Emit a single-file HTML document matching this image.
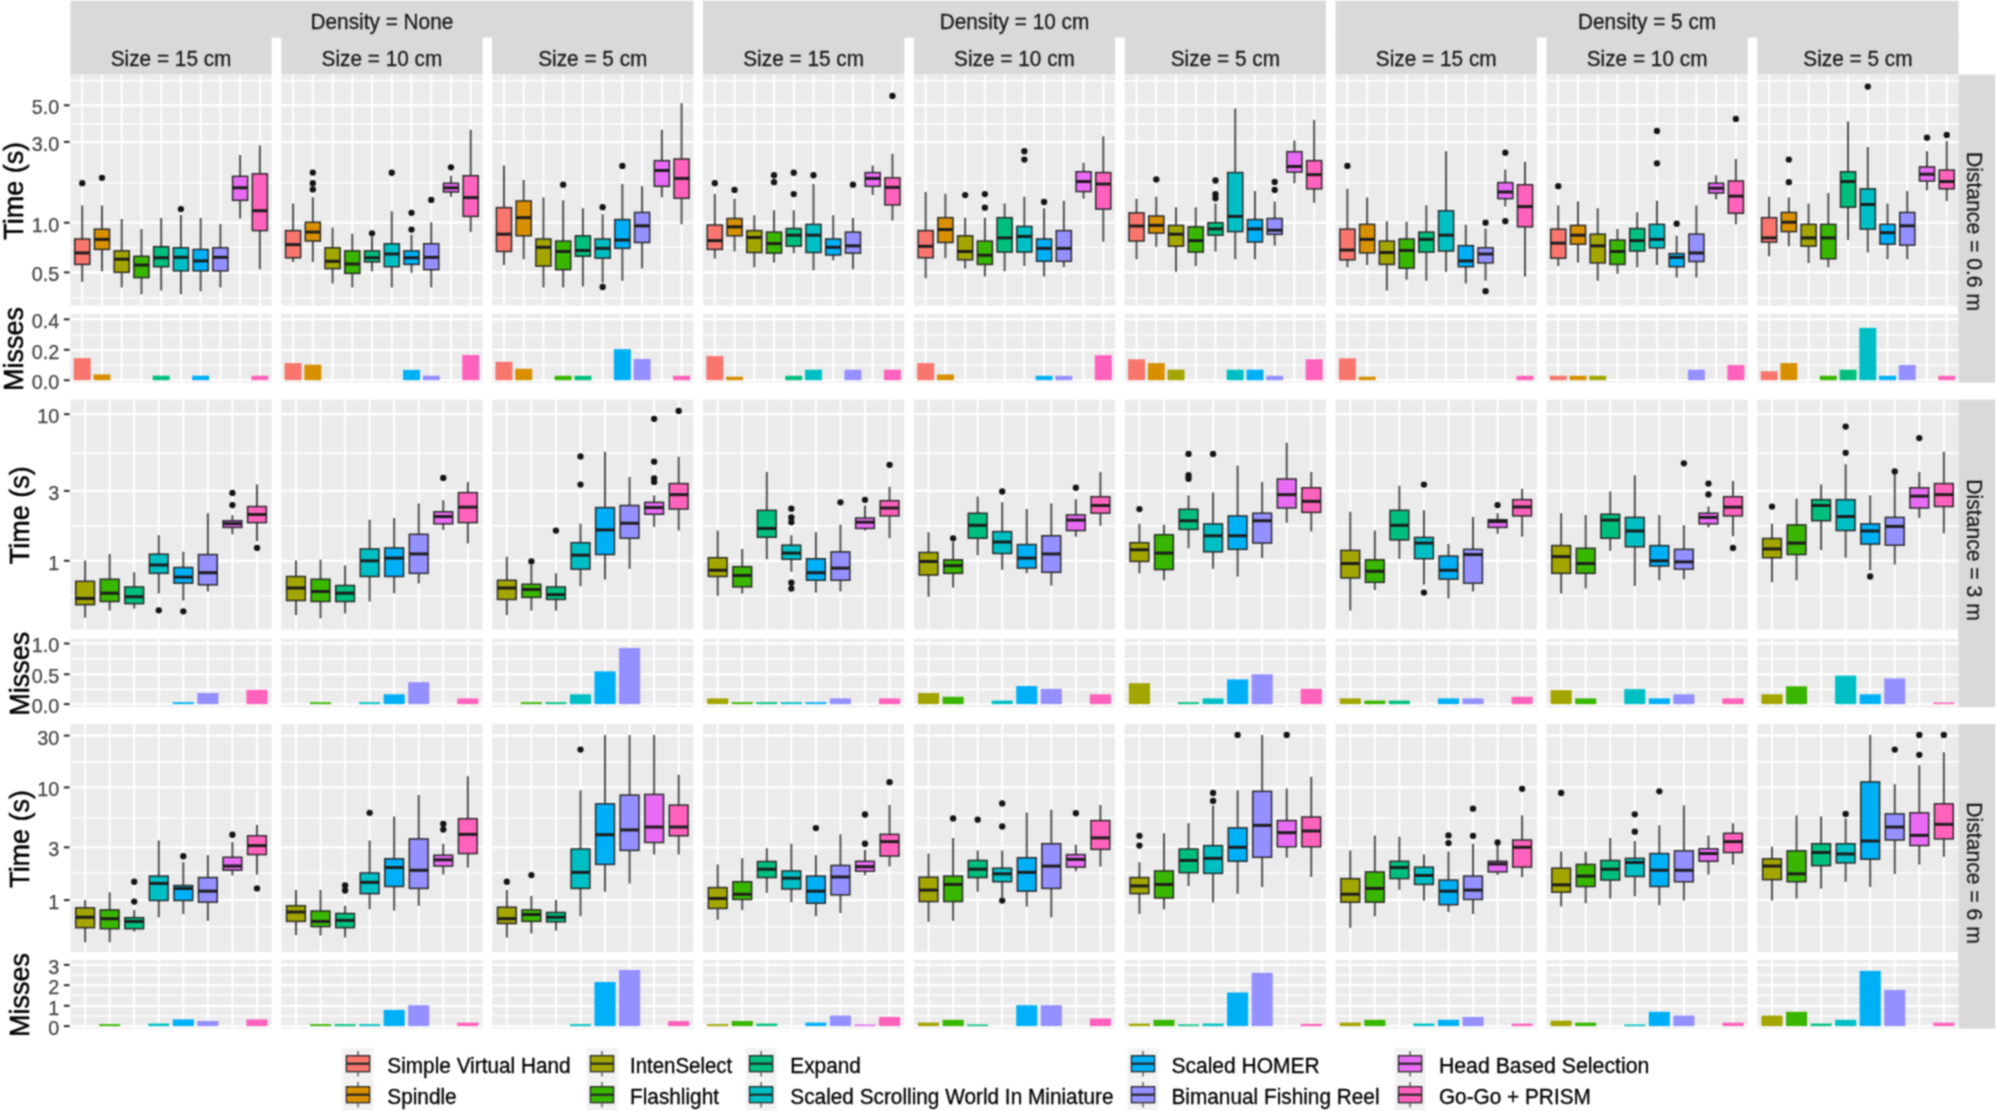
<!DOCTYPE html>
<html lang="en"><head><meta charset="utf-8"><title>Selection techniques: time and misses</title>
<style>html,body{margin:0;padding:0;background:#fff}body{width:1996px;height:1111px;overflow:hidden}svg{display:block}</style>
</head><body>
<svg width="1996" height="1111" viewBox="0 0 1996 1111" font-family="'Liberation Sans', Arial, sans-serif">
<defs><filter id="soft" x="0" y="0" width="1996" height="1111" filterUnits="userSpaceOnUse" color-interpolation-filters="sRGB"><feConvolveMatrix order="3" kernelMatrix="1 2 1 2 4 2 1 2 1" divisor="16" edgeMode="duplicate" preserveAlpha="true"/></filter></defs>
<g filter="url(#soft)">
<rect x="0" y="0" width="1996" height="1111" fill="#ffffff"/>
<rect x="70.4" y="0.8" width="623.02" height="36.8" fill="#d9d9d9"/>
<text transform="translate(381.91,29) scale(0.972,1)" font-size="21.4" text-anchor="middle" fill="#1a1a1a" stroke="#1a1a1a" stroke-width="0.3">Density = None</text>
<rect x="702.98" y="0.8" width="623.02" height="36.8" fill="#d9d9d9"/>
<text transform="translate(1014.49,29) scale(0.972,1)" font-size="21.4" text-anchor="middle" fill="#1a1a1a" stroke="#1a1a1a" stroke-width="0.3">Density = 10 cm</text>
<rect x="1335.56" y="0.8" width="623.02" height="36.8" fill="#d9d9d9"/>
<text transform="translate(1647.07,29) scale(0.972,1)" font-size="21.4" text-anchor="middle" fill="#1a1a1a" stroke="#1a1a1a" stroke-width="0.3">Density = 5 cm</text>
<rect x="70.4" y="37.1" width="201.3" height="37.4" fill="#d9d9d9"/>
<text transform="translate(171.05,66.3) scale(0.972,1)" font-size="21.4" text-anchor="middle" fill="#1a1a1a" stroke="#1a1a1a" stroke-width="0.3">Size = 15 cm</text>
<rect x="281.26" y="37.1" width="201.3" height="37.4" fill="#d9d9d9"/>
<text transform="translate(381.91,66.3) scale(0.972,1)" font-size="21.4" text-anchor="middle" fill="#1a1a1a" stroke="#1a1a1a" stroke-width="0.3">Size = 10 cm</text>
<rect x="492.12" y="37.1" width="201.3" height="37.4" fill="#d9d9d9"/>
<text transform="translate(592.77,66.3) scale(0.972,1)" font-size="21.4" text-anchor="middle" fill="#1a1a1a" stroke="#1a1a1a" stroke-width="0.3">Size = 5 cm</text>
<rect x="702.98" y="37.1" width="201.3" height="37.4" fill="#d9d9d9"/>
<text transform="translate(803.63,66.3) scale(0.972,1)" font-size="21.4" text-anchor="middle" fill="#1a1a1a" stroke="#1a1a1a" stroke-width="0.3">Size = 15 cm</text>
<rect x="913.84" y="37.1" width="201.3" height="37.4" fill="#d9d9d9"/>
<text transform="translate(1014.49,66.3) scale(0.972,1)" font-size="21.4" text-anchor="middle" fill="#1a1a1a" stroke="#1a1a1a" stroke-width="0.3">Size = 10 cm</text>
<rect x="1124.7" y="37.1" width="201.3" height="37.4" fill="#d9d9d9"/>
<text transform="translate(1225.35,66.3) scale(0.972,1)" font-size="21.4" text-anchor="middle" fill="#1a1a1a" stroke="#1a1a1a" stroke-width="0.3">Size = 5 cm</text>
<rect x="1335.56" y="37.1" width="201.3" height="37.4" fill="#d9d9d9"/>
<text transform="translate(1436.21,66.3) scale(0.972,1)" font-size="21.4" text-anchor="middle" fill="#1a1a1a" stroke="#1a1a1a" stroke-width="0.3">Size = 15 cm</text>
<rect x="1546.42" y="37.1" width="201.3" height="37.4" fill="#d9d9d9"/>
<text transform="translate(1647.07,66.3) scale(0.972,1)" font-size="21.4" text-anchor="middle" fill="#1a1a1a" stroke="#1a1a1a" stroke-width="0.3">Size = 10 cm</text>
<rect x="1757.28" y="37.1" width="201.3" height="37.4" fill="#d9d9d9"/>
<text transform="translate(1857.93,66.3) scale(0.972,1)" font-size="21.4" text-anchor="middle" fill="#1a1a1a" stroke="#1a1a1a" stroke-width="0.3">Size = 5 cm</text>
<rect x="1958.2" y="74.5" width="37" height="308.2" fill="#d9d9d9"/>
<text transform="translate(1967,231.5) rotate(90) scale(0.988,1)" font-size="21.4" text-anchor="middle" fill="#1a1a1a" stroke="#1a1a1a" stroke-width="0.3">Distance = 0.6 m</text>
<rect x="1958.2" y="399.6" width="37" height="307.7" fill="#d9d9d9"/>
<text transform="translate(1967,550) rotate(90) scale(0.988,1)" font-size="21.4" text-anchor="middle" fill="#1a1a1a" stroke="#1a1a1a" stroke-width="0.3">Distance = 3 m</text>
<rect x="1958.2" y="724.1" width="37" height="304.5" fill="#d9d9d9"/>
<text transform="translate(1967,873) rotate(90) scale(0.988,1)" font-size="21.4" text-anchor="middle" fill="#1a1a1a" stroke="#1a1a1a" stroke-width="0.3">Distance = 6 m</text>
<rect x="70.4" y="74.5" width="201.3" height="231.1" fill="#ebebeb"/>
<path d="M70.4 80.7H271.7M70.4 123.7H271.7M70.4 182.6H271.7M70.4 247.3H271.7M70.4 297.8H271.7" stroke="#fff" stroke-width="1.35" fill="none"/>
<path d="M70.4 105.3H271.7M70.4 141.9H271.7M70.4 222.7H271.7M70.4 272.4H271.7" stroke="#fff" stroke-width="2.3" fill="none"/>
<path d="M82.24 74.5V305.6M101.98 74.5V305.6M121.71 74.5V305.6M141.45 74.5V305.6M161.18 74.5V305.6M180.92 74.5V305.6M200.65 74.5V305.6M220.39 74.5V305.6M240.12 74.5V305.6M259.86 74.5V305.6" stroke="#fff" stroke-width="1.9" fill="none"/>
<rect x="70.4" y="313.8" width="201.3" height="68.9" fill="#ebebeb"/>
<path d="M70.4 334.8H271.7M70.4 365.1H271.7" stroke="#fff" stroke-width="1.35" fill="none"/>
<path d="M70.4 319.3H271.7M70.4 349.8H271.7M70.4 380.2H271.7" stroke="#fff" stroke-width="2.3" fill="none"/>
<path d="M82.24 313.8V382.7M101.98 313.8V382.7M121.71 313.8V382.7M141.45 313.8V382.7M161.18 313.8V382.7M180.92 313.8V382.7M200.65 313.8V382.7M220.39 313.8V382.7M240.12 313.8V382.7M259.86 313.8V382.7" stroke="#fff" stroke-width="1.9" fill="none"/>
<path d="M82.24 205.55V238.96M82.24 264.44V281.77" stroke="#4a4a4a" stroke-width="1.9" fill="none"/>
<rect x="74.69" y="238.96" width="15.1" height="25.48" fill="#F8766D" stroke="#262626" stroke-width="1.45"/>
<path d="M74.69 252.95H89.79" stroke="#1c1c1c" stroke-width="3.0" fill="none"/>
<circle cx="82.24" cy="183.21" r="3.15" fill="#141414"/>
<path d="M101.98 205.55V229.15M101.98 249.4V271.33" stroke="#4a4a4a" stroke-width="1.9" fill="none"/>
<rect x="94.43" y="229.15" width="15.1" height="20.25" fill="#D89000" stroke="#262626" stroke-width="1.45"/>
<path d="M94.43 239.38H109.53" stroke="#1c1c1c" stroke-width="3.0" fill="none"/>
<circle cx="101.98" cy="177.78" r="3.15" fill="#141414"/>
<path d="M121.71 219.12V250.86M121.71 272.37V287.41" stroke="#4a4a4a" stroke-width="1.9" fill="none"/>
<rect x="114.16" y="250.86" width="15.1" height="21.51" fill="#A3A500" stroke="#262626" stroke-width="1.45"/>
<path d="M114.16 259.22H129.26" stroke="#1c1c1c" stroke-width="3.0" fill="none"/>
<path d="M141.45 228.94V256.29M141.45 277.59V294.3" stroke="#4a4a4a" stroke-width="1.9" fill="none"/>
<rect x="133.9" y="256.29" width="15.1" height="21.3" fill="#39B600" stroke="#262626" stroke-width="1.45"/>
<path d="M133.9 265.06H149" stroke="#1c1c1c" stroke-width="3.0" fill="none"/>
<path d="M161.18 218.08V246.69M161.18 266.73V290.54" stroke="#4a4a4a" stroke-width="1.9" fill="none"/>
<rect x="153.63" y="246.69" width="15.1" height="20.05" fill="#00BF7D" stroke="#262626" stroke-width="1.45"/>
<path d="M153.63 257.75H168.73" stroke="#1c1c1c" stroke-width="3.0" fill="none"/>
<path d="M180.92 214.95V247.73M180.92 270.91V294.3" stroke="#4a4a4a" stroke-width="1.9" fill="none"/>
<rect x="173.37" y="247.73" width="15.1" height="23.18" fill="#00BFC4" stroke="#262626" stroke-width="1.45"/>
<path d="M173.37 257.34H188.47" stroke="#1c1c1c" stroke-width="3.0" fill="none"/>
<circle cx="180.92" cy="209.1" r="3.15" fill="#141414"/>
<path d="M200.65 218.08V249.4M200.65 270.91V291.16" stroke="#4a4a4a" stroke-width="1.9" fill="none"/>
<rect x="193.1" y="249.4" width="15.1" height="21.51" fill="#00B0F6" stroke="#262626" stroke-width="1.45"/>
<path d="M193.1 260.89H208.2" stroke="#1c1c1c" stroke-width="3.0" fill="none"/>
<path d="M220.39 223.93V247.73M220.39 270.91V287.41" stroke="#4a4a4a" stroke-width="1.9" fill="none"/>
<rect x="212.84" y="247.73" width="15.1" height="23.18" fill="#9590FF" stroke="#262626" stroke-width="1.45"/>
<path d="M212.84 257.34H227.94" stroke="#1c1c1c" stroke-width="3.0" fill="none"/>
<path d="M240.12 155.02V176.32M240.12 200.33V218.5" stroke="#4a4a4a" stroke-width="1.9" fill="none"/>
<rect x="232.57" y="176.32" width="15.1" height="24.01" fill="#E76BF3" stroke="#262626" stroke-width="1.45"/>
<path d="M232.57 187.8H247.67" stroke="#1c1c1c" stroke-width="3.0" fill="none"/>
<path d="M259.86 145.41V173.81M259.86 230.61V269.24" stroke="#4a4a4a" stroke-width="1.9" fill="none"/>
<rect x="252.31" y="173.81" width="15.1" height="56.8" fill="#FF62BC" stroke="#262626" stroke-width="1.45"/>
<path d="M252.31 210.77H267.41" stroke="#1c1c1c" stroke-width="3.0" fill="none"/>
<rect x="73.76" y="358.1" width="16.97" height="22.1" fill="#F8766D"/>
<rect x="93.49" y="374.4" width="16.97" height="5.8" fill="#D89000"/>
<rect x="152.7" y="375.7" width="16.97" height="4.5" fill="#00BF7D"/>
<rect x="192.17" y="375.7" width="16.97" height="4.5" fill="#00B0F6"/>
<rect x="251.37" y="375.7" width="16.97" height="4.5" fill="#FF62BC"/>
<rect x="281.26" y="74.5" width="201.3" height="231.1" fill="#ebebeb"/>
<path d="M281.26 80.7H482.56M281.26 123.7H482.56M281.26 182.6H482.56M281.26 247.3H482.56M281.26 297.8H482.56" stroke="#fff" stroke-width="1.35" fill="none"/>
<path d="M281.26 105.3H482.56M281.26 141.9H482.56M281.26 222.7H482.56M281.26 272.4H482.56" stroke="#fff" stroke-width="2.3" fill="none"/>
<path d="M293.1 74.5V305.6M312.84 74.5V305.6M332.57 74.5V305.6M352.31 74.5V305.6M372.04 74.5V305.6M391.78 74.5V305.6M411.51 74.5V305.6M431.25 74.5V305.6M450.98 74.5V305.6M470.72 74.5V305.6" stroke="#fff" stroke-width="1.9" fill="none"/>
<rect x="281.26" y="313.8" width="201.3" height="68.9" fill="#ebebeb"/>
<path d="M281.26 334.8H482.56M281.26 365.1H482.56" stroke="#fff" stroke-width="1.35" fill="none"/>
<path d="M281.26 319.3H482.56M281.26 349.8H482.56M281.26 380.2H482.56" stroke="#fff" stroke-width="2.3" fill="none"/>
<path d="M293.1 313.8V382.7M312.84 313.8V382.7M332.57 313.8V382.7M352.31 313.8V382.7M372.04 313.8V382.7M391.78 313.8V382.7M411.51 313.8V382.7M431.25 313.8V382.7M450.98 313.8V382.7M470.72 313.8V382.7" stroke="#fff" stroke-width="1.9" fill="none"/>
<path d="M293.1 203.46V230.61M293.1 257.75V261.93" stroke="#4a4a4a" stroke-width="1.9" fill="none"/>
<rect x="285.55" y="230.61" width="15.1" height="27.15" fill="#F8766D" stroke="#262626" stroke-width="1.45"/>
<path d="M285.55 244.6H300.65" stroke="#1c1c1c" stroke-width="3.0" fill="none"/>
<path d="M312.84 197.2V222.26M312.84 241.05V261.93" stroke="#4a4a4a" stroke-width="1.9" fill="none"/>
<rect x="305.29" y="222.26" width="15.1" height="18.79" fill="#D89000" stroke="#262626" stroke-width="1.45"/>
<path d="M305.29 232.07H320.39" stroke="#1c1c1c" stroke-width="3.0" fill="none"/>
<circle cx="312.84" cy="172.56" r="3.15" fill="#141414"/>
<circle cx="312.84" cy="183.21" r="3.15" fill="#141414"/>
<circle cx="312.84" cy="189.47" r="3.15" fill="#141414"/>
<path d="M332.57 227.48V247.73M332.57 268.61V283.44" stroke="#4a4a4a" stroke-width="1.9" fill="none"/>
<rect x="325.02" y="247.73" width="15.1" height="20.88" fill="#A3A500" stroke="#262626" stroke-width="1.45"/>
<path d="M325.02 261.3H340.12" stroke="#1c1c1c" stroke-width="3.0" fill="none"/>
<path d="M352.31 233.74V250.86M352.31 273.42V287.41" stroke="#4a4a4a" stroke-width="1.9" fill="none"/>
<rect x="344.76" y="250.86" width="15.1" height="22.55" fill="#39B600" stroke="#262626" stroke-width="1.45"/>
<path d="M344.76 264.02H359.86" stroke="#1c1c1c" stroke-width="3.0" fill="none"/>
<path d="M372.04 236.87V250.86M372.04 261.93V271.33" stroke="#4a4a4a" stroke-width="1.9" fill="none"/>
<rect x="364.49" y="250.86" width="15.1" height="11.07" fill="#00BF7D" stroke="#262626" stroke-width="1.45"/>
<path d="M364.49 257.75H379.59" stroke="#1c1c1c" stroke-width="3.0" fill="none"/>
<circle cx="372.04" cy="233.32" r="3.15" fill="#141414"/>
<path d="M391.78 211.19V243.76M391.78 266.73V287.41" stroke="#4a4a4a" stroke-width="1.9" fill="none"/>
<rect x="384.23" y="243.76" width="15.1" height="22.97" fill="#00BFC4" stroke="#262626" stroke-width="1.45"/>
<path d="M384.23 254H399.33" stroke="#1c1c1c" stroke-width="3.0" fill="none"/>
<circle cx="391.78" cy="172.77" r="3.15" fill="#141414"/>
<path d="M411.51 234.79V250.86M411.51 264.44V272.79" stroke="#4a4a4a" stroke-width="1.9" fill="none"/>
<rect x="403.96" y="250.86" width="15.1" height="13.57" fill="#00B0F6" stroke="#262626" stroke-width="1.45"/>
<path d="M403.96 257.75H419.06" stroke="#1c1c1c" stroke-width="3.0" fill="none"/>
<circle cx="411.51" cy="212.86" r="3.15" fill="#141414"/>
<circle cx="411.51" cy="229.56" r="3.15" fill="#141414"/>
<path d="M431.25 222.26V243.76M431.25 269.66V287.41" stroke="#4a4a4a" stroke-width="1.9" fill="none"/>
<rect x="423.7" y="243.76" width="15.1" height="25.89" fill="#9590FF" stroke="#262626" stroke-width="1.45"/>
<path d="M423.7 257.34H438.8" stroke="#1c1c1c" stroke-width="3.0" fill="none"/>
<circle cx="431.25" cy="199.91" r="3.15" fill="#141414"/>
<path d="M450.98 175.69V183.21M450.98 191.98V196.78" stroke="#4a4a4a" stroke-width="1.9" fill="none"/>
<rect x="443.43" y="183.21" width="15.1" height="8.77" fill="#E76BF3" stroke="#262626" stroke-width="1.45"/>
<path d="M443.43 187.8H458.53" stroke="#1c1c1c" stroke-width="3.0" fill="none"/>
<circle cx="450.98" cy="167.34" r="3.15" fill="#141414"/>
<path d="M470.72 129.75V175.69M470.72 216.41V232.07" stroke="#4a4a4a" stroke-width="1.9" fill="none"/>
<rect x="463.17" y="175.69" width="15.1" height="40.72" fill="#FF62BC" stroke="#262626" stroke-width="1.45"/>
<path d="M463.17 197.62H478.27" stroke="#1c1c1c" stroke-width="3.0" fill="none"/>
<rect x="284.61" y="363.1" width="16.97" height="17.1" fill="#F8766D"/>
<rect x="304.35" y="364.7" width="16.97" height="15.5" fill="#D89000"/>
<rect x="403.03" y="369.9" width="16.97" height="10.3" fill="#00B0F6"/>
<rect x="422.76" y="375.7" width="16.97" height="4.5" fill="#9590FF"/>
<rect x="462.23" y="355" width="16.97" height="25.2" fill="#FF62BC"/>
<rect x="492.12" y="74.5" width="201.3" height="231.1" fill="#ebebeb"/>
<path d="M492.12 80.7H693.42M492.12 123.7H693.42M492.12 182.6H693.42M492.12 247.3H693.42M492.12 297.8H693.42" stroke="#fff" stroke-width="1.35" fill="none"/>
<path d="M492.12 105.3H693.42M492.12 141.9H693.42M492.12 222.7H693.42M492.12 272.4H693.42" stroke="#fff" stroke-width="2.3" fill="none"/>
<path d="M503.96 74.5V305.6M523.7 74.5V305.6M543.43 74.5V305.6M563.17 74.5V305.6M582.9 74.5V305.6M602.64 74.5V305.6M622.37 74.5V305.6M642.11 74.5V305.6M661.84 74.5V305.6M681.58 74.5V305.6" stroke="#fff" stroke-width="1.9" fill="none"/>
<rect x="492.12" y="313.8" width="201.3" height="68.9" fill="#ebebeb"/>
<path d="M492.12 334.8H693.42M492.12 365.1H693.42" stroke="#fff" stroke-width="1.35" fill="none"/>
<path d="M492.12 319.3H693.42M492.12 349.8H693.42M492.12 380.2H693.42" stroke="#fff" stroke-width="2.3" fill="none"/>
<path d="M503.96 313.8V382.7M523.7 313.8V382.7M543.43 313.8V382.7M563.17 313.8V382.7M582.9 313.8V382.7M602.64 313.8V382.7M622.37 313.8V382.7M642.11 313.8V382.7M661.84 313.8V382.7M681.58 313.8V382.7" stroke="#fff" stroke-width="1.9" fill="none"/>
<path d="M503.96 165.46V207.64M503.96 251.49V265.06" stroke="#4a4a4a" stroke-width="1.9" fill="none"/>
<rect x="496.41" y="207.64" width="15.1" height="43.85" fill="#F8766D" stroke="#262626" stroke-width="1.45"/>
<path d="M496.41 234.16H511.51" stroke="#1c1c1c" stroke-width="3.0" fill="none"/>
<path d="M523.7 180.08V200.96M523.7 235.83V259.22" stroke="#4a4a4a" stroke-width="1.9" fill="none"/>
<rect x="516.15" y="200.96" width="15.1" height="34.87" fill="#D89000" stroke="#262626" stroke-width="1.45"/>
<path d="M516.15 217.66H531.25" stroke="#1c1c1c" stroke-width="3.0" fill="none"/>
<path d="M543.43 197.62V238.96M543.43 266.11V287.41" stroke="#4a4a4a" stroke-width="1.9" fill="none"/>
<rect x="535.88" y="238.96" width="15.1" height="27.15" fill="#A3A500" stroke="#262626" stroke-width="1.45"/>
<path d="M535.88 247.31H550.98" stroke="#1c1c1c" stroke-width="3.0" fill="none"/>
<path d="M563.17 200.33V241.05M563.17 269.66V287.41" stroke="#4a4a4a" stroke-width="1.9" fill="none"/>
<rect x="555.62" y="241.05" width="15.1" height="28.61" fill="#39B600" stroke="#262626" stroke-width="1.45"/>
<path d="M555.62 251.49H570.72" stroke="#1c1c1c" stroke-width="3.0" fill="none"/>
<circle cx="563.17" cy="184.67" r="3.15" fill="#141414"/>
<path d="M582.9 208.27V235.83M582.9 256.29V286.57" stroke="#4a4a4a" stroke-width="1.9" fill="none"/>
<rect x="575.35" y="235.83" width="15.1" height="20.46" fill="#00BF7D" stroke="#262626" stroke-width="1.45"/>
<path d="M575.35 250.45H590.45" stroke="#1c1c1c" stroke-width="3.0" fill="none"/>
<path d="M602.64 214.32V238.96M602.64 258.17V282.81" stroke="#4a4a4a" stroke-width="1.9" fill="none"/>
<rect x="595.09" y="238.96" width="15.1" height="19.21" fill="#00BFC4" stroke="#262626" stroke-width="1.45"/>
<path d="M595.09 248.36H610.19" stroke="#1c1c1c" stroke-width="3.0" fill="none"/>
<circle cx="602.64" cy="207.22" r="3.15" fill="#141414"/>
<circle cx="602.64" cy="286.99" r="3.15" fill="#141414"/>
<path d="M622.37 184.04V219.54M622.37 248.36V280.72" stroke="#4a4a4a" stroke-width="1.9" fill="none"/>
<rect x="614.82" y="219.54" width="15.1" height="28.82" fill="#00B0F6" stroke="#262626" stroke-width="1.45"/>
<path d="M614.82 240.01H629.92" stroke="#1c1c1c" stroke-width="3.0" fill="none"/>
<circle cx="622.37" cy="165.88" r="3.15" fill="#141414"/>
<path d="M642.11 186.34V212.44M642.11 242.51V268.61" stroke="#4a4a4a" stroke-width="1.9" fill="none"/>
<rect x="634.56" y="212.44" width="15.1" height="30.07" fill="#9590FF" stroke="#262626" stroke-width="1.45"/>
<path d="M634.56 225.81H649.66" stroke="#1c1c1c" stroke-width="3.0" fill="none"/>
<path d="M661.84 129.75V160.66M661.84 186.34V197.2" stroke="#4a4a4a" stroke-width="1.9" fill="none"/>
<rect x="654.29" y="160.66" width="15.1" height="25.68" fill="#E76BF3" stroke="#262626" stroke-width="1.45"/>
<path d="M654.29 170.47H669.39" stroke="#1c1c1c" stroke-width="3.0" fill="none"/>
<path d="M681.58 103.23V158.99M681.58 198.24V224.34" stroke="#4a4a4a" stroke-width="1.9" fill="none"/>
<rect x="674.03" y="158.99" width="15.1" height="39.26" fill="#FF62BC" stroke="#262626" stroke-width="1.45"/>
<path d="M674.03 178.41H689.13" stroke="#1c1c1c" stroke-width="3.0" fill="none"/>
<rect x="495.47" y="361.8" width="16.97" height="18.4" fill="#F8766D"/>
<rect x="515.21" y="368.8" width="16.97" height="11.4" fill="#D89000"/>
<rect x="554.68" y="375.8" width="16.97" height="4.4" fill="#39B600"/>
<rect x="574.42" y="375.8" width="16.97" height="4.4" fill="#00BF7D"/>
<rect x="613.89" y="349.2" width="16.97" height="31" fill="#00B0F6"/>
<rect x="633.62" y="359" width="16.97" height="21.2" fill="#9590FF"/>
<rect x="673.09" y="375.8" width="16.97" height="4.4" fill="#FF62BC"/>
<rect x="702.98" y="74.5" width="201.3" height="231.1" fill="#ebebeb"/>
<path d="M702.98 80.7H904.28M702.98 123.7H904.28M702.98 182.6H904.28M702.98 247.3H904.28M702.98 297.8H904.28" stroke="#fff" stroke-width="1.35" fill="none"/>
<path d="M702.98 105.3H904.28M702.98 141.9H904.28M702.98 222.7H904.28M702.98 272.4H904.28" stroke="#fff" stroke-width="2.3" fill="none"/>
<path d="M714.82 74.5V305.6M734.56 74.5V305.6M754.29 74.5V305.6M774.03 74.5V305.6M793.76 74.5V305.6M813.5 74.5V305.6M833.23 74.5V305.6M852.97 74.5V305.6M872.7 74.5V305.6M892.44 74.5V305.6" stroke="#fff" stroke-width="1.9" fill="none"/>
<rect x="702.98" y="313.8" width="201.3" height="68.9" fill="#ebebeb"/>
<path d="M702.98 334.8H904.28M702.98 365.1H904.28" stroke="#fff" stroke-width="1.35" fill="none"/>
<path d="M702.98 319.3H904.28M702.98 349.8H904.28M702.98 380.2H904.28" stroke="#fff" stroke-width="2.3" fill="none"/>
<path d="M714.82 313.8V382.7M734.56 313.8V382.7M754.29 313.8V382.7M774.03 313.8V382.7M793.76 313.8V382.7M813.5 313.8V382.7M833.23 313.8V382.7M852.97 313.8V382.7M872.7 313.8V382.7M892.44 313.8V382.7" stroke="#fff" stroke-width="1.9" fill="none"/>
<path d="M714.82 194.07V224.97M714.82 249.4V258.38" stroke="#4a4a4a" stroke-width="1.9" fill="none"/>
<rect x="707.27" y="224.97" width="15.1" height="24.43" fill="#F8766D" stroke="#262626" stroke-width="1.45"/>
<path d="M707.27 240.63H722.37" stroke="#1c1c1c" stroke-width="3.0" fill="none"/>
<circle cx="714.82" cy="183.21" r="3.15" fill="#141414"/>
<path d="M734.56 198.66V218.5M734.56 235.83V251.49" stroke="#4a4a4a" stroke-width="1.9" fill="none"/>
<rect x="727.01" y="218.5" width="15.1" height="17.33" fill="#D89000" stroke="#262626" stroke-width="1.45"/>
<path d="M727.01 226.85H742.11" stroke="#1c1c1c" stroke-width="3.0" fill="none"/>
<circle cx="734.56" cy="189.89" r="3.15" fill="#141414"/>
<path d="M754.29 215.37V230.61M754.29 252.53V267.15" stroke="#4a4a4a" stroke-width="1.9" fill="none"/>
<rect x="746.74" y="230.61" width="15.1" height="21.93" fill="#A3A500" stroke="#262626" stroke-width="1.45"/>
<path d="M746.74 237.5H761.84" stroke="#1c1c1c" stroke-width="3.0" fill="none"/>
<path d="M774.03 210.35V232.07M774.03 253.16V262.56" stroke="#4a4a4a" stroke-width="1.9" fill="none"/>
<rect x="766.48" y="232.07" width="15.1" height="21.09" fill="#39B600" stroke="#262626" stroke-width="1.45"/>
<path d="M766.48 243.56H781.58" stroke="#1c1c1c" stroke-width="3.0" fill="none"/>
<circle cx="774.03" cy="175.27" r="3.15" fill="#141414"/>
<circle cx="774.03" cy="182.16" r="3.15" fill="#141414"/>
<path d="M793.76 210.35V228.52M793.76 246.27V253.16" stroke="#4a4a4a" stroke-width="1.9" fill="none"/>
<rect x="786.21" y="228.52" width="15.1" height="17.75" fill="#00BF7D" stroke="#262626" stroke-width="1.45"/>
<path d="M786.21 235.2H801.31" stroke="#1c1c1c" stroke-width="3.0" fill="none"/>
<circle cx="793.76" cy="172.77" r="3.15" fill="#141414"/>
<circle cx="793.76" cy="194.07" r="3.15" fill="#141414"/>
<path d="M813.5 184.04V224.34M813.5 252.53V270.28" stroke="#4a4a4a" stroke-width="1.9" fill="none"/>
<rect x="805.95" y="224.34" width="15.1" height="28.19" fill="#00BFC4" stroke="#262626" stroke-width="1.45"/>
<path d="M805.95 235.2H821.05" stroke="#1c1c1c" stroke-width="3.0" fill="none"/>
<circle cx="813.5" cy="175.27" r="3.15" fill="#141414"/>
<path d="M833.23 215.37V238.96M833.23 255.04V260.26" stroke="#4a4a4a" stroke-width="1.9" fill="none"/>
<rect x="825.68" y="238.96" width="15.1" height="16.08" fill="#00B0F6" stroke="#262626" stroke-width="1.45"/>
<path d="M825.68 247.31H840.78" stroke="#1c1c1c" stroke-width="3.0" fill="none"/>
<path d="M852.97 218.08V232.07M852.97 253.16V269.24" stroke="#4a4a4a" stroke-width="1.9" fill="none"/>
<rect x="845.42" y="232.07" width="15.1" height="21.09" fill="#9590FF" stroke="#262626" stroke-width="1.45"/>
<path d="M845.42 245.85H860.52" stroke="#1c1c1c" stroke-width="3.0" fill="none"/>
<circle cx="852.97" cy="184.67" r="3.15" fill="#141414"/>
<path d="M872.7 165.46V172.56M872.7 186.34V195.11" stroke="#4a4a4a" stroke-width="1.9" fill="none"/>
<rect x="865.15" y="172.56" width="15.1" height="13.78" fill="#E76BF3" stroke="#262626" stroke-width="1.45"/>
<path d="M865.15 178.41H880.25" stroke="#1c1c1c" stroke-width="3.0" fill="none"/>
<path d="M892.44 153.77V177.78M892.44 204.93V220.59" stroke="#4a4a4a" stroke-width="1.9" fill="none"/>
<rect x="884.89" y="177.78" width="15.1" height="27.15" fill="#FF62BC" stroke="#262626" stroke-width="1.45"/>
<path d="M884.89 187.38H899.99" stroke="#1c1c1c" stroke-width="3.0" fill="none"/>
<circle cx="892.44" cy="95.93" r="3.15" fill="#141414"/>
<rect x="706.34" y="356.1" width="16.97" height="24.1" fill="#F8766D"/>
<rect x="726.07" y="376.7" width="16.97" height="3.5" fill="#D89000"/>
<rect x="785.28" y="375.8" width="16.97" height="4.4" fill="#00BF7D"/>
<rect x="805.01" y="369.7" width="16.97" height="10.5" fill="#00BFC4"/>
<rect x="844.48" y="369.7" width="16.97" height="10.5" fill="#9590FF"/>
<rect x="883.95" y="369.7" width="16.97" height="10.5" fill="#FF62BC"/>
<rect x="913.84" y="74.5" width="201.3" height="231.1" fill="#ebebeb"/>
<path d="M913.84 80.7H1115.14M913.84 123.7H1115.14M913.84 182.6H1115.14M913.84 247.3H1115.14M913.84 297.8H1115.14" stroke="#fff" stroke-width="1.35" fill="none"/>
<path d="M913.84 105.3H1115.14M913.84 141.9H1115.14M913.84 222.7H1115.14M913.84 272.4H1115.14" stroke="#fff" stroke-width="2.3" fill="none"/>
<path d="M925.68 74.5V305.6M945.42 74.5V305.6M965.15 74.5V305.6M984.89 74.5V305.6M1004.62 74.5V305.6M1024.36 74.5V305.6M1044.09 74.5V305.6M1063.83 74.5V305.6M1083.56 74.5V305.6M1103.3 74.5V305.6" stroke="#fff" stroke-width="1.9" fill="none"/>
<rect x="913.84" y="313.8" width="201.3" height="68.9" fill="#ebebeb"/>
<path d="M913.84 334.8H1115.14M913.84 365.1H1115.14" stroke="#fff" stroke-width="1.35" fill="none"/>
<path d="M913.84 319.3H1115.14M913.84 349.8H1115.14M913.84 380.2H1115.14" stroke="#fff" stroke-width="2.3" fill="none"/>
<path d="M925.68 313.8V382.7M945.42 313.8V382.7M965.15 313.8V382.7M984.89 313.8V382.7M1004.62 313.8V382.7M1024.36 313.8V382.7M1044.09 313.8V382.7M1063.83 313.8V382.7M1083.56 313.8V382.7M1103.3 313.8V382.7" stroke="#fff" stroke-width="1.9" fill="none"/>
<path d="M925.68 191.98V230.61M925.68 257.75V278.22" stroke="#4a4a4a" stroke-width="1.9" fill="none"/>
<rect x="918.13" y="230.61" width="15.1" height="27.15" fill="#F8766D" stroke="#262626" stroke-width="1.45"/>
<path d="M918.13 246.27H933.23" stroke="#1c1c1c" stroke-width="3.0" fill="none"/>
<path d="M945.42 193.65V217.66M945.42 242.51V258.17" stroke="#4a4a4a" stroke-width="1.9" fill="none"/>
<rect x="937.87" y="217.66" width="15.1" height="24.85" fill="#D89000" stroke="#262626" stroke-width="1.45"/>
<path d="M937.87 229.56H952.97" stroke="#1c1c1c" stroke-width="3.0" fill="none"/>
<path d="M965.15 217.66V235.83M965.15 259.84V268.61" stroke="#4a4a4a" stroke-width="1.9" fill="none"/>
<rect x="957.6" y="235.83" width="15.1" height="24.01" fill="#A3A500" stroke="#262626" stroke-width="1.45"/>
<path d="M957.6 251.49H972.7" stroke="#1c1c1c" stroke-width="3.0" fill="none"/>
<circle cx="965.15" cy="195.11" r="3.15" fill="#141414"/>
<path d="M984.89 217.66V241.05M984.89 264.44V276.55" stroke="#4a4a4a" stroke-width="1.9" fill="none"/>
<rect x="977.34" y="241.05" width="15.1" height="23.39" fill="#39B600" stroke="#262626" stroke-width="1.45"/>
<path d="M977.34 255.25H992.44" stroke="#1c1c1c" stroke-width="3.0" fill="none"/>
<circle cx="984.89" cy="194.07" r="3.15" fill="#141414"/>
<circle cx="984.89" cy="207.64" r="3.15" fill="#141414"/>
<path d="M1004.62 203.46V217.66M1004.62 252.12V271.33" stroke="#4a4a4a" stroke-width="1.9" fill="none"/>
<rect x="997.07" y="217.66" width="15.1" height="34.45" fill="#00BF7D" stroke="#262626" stroke-width="1.45"/>
<path d="M997.07 237.92H1012.17" stroke="#1c1c1c" stroke-width="3.0" fill="none"/>
<path d="M1024.36 196.78V226.43M1024.36 252.12V266.11" stroke="#4a4a4a" stroke-width="1.9" fill="none"/>
<rect x="1016.81" y="226.43" width="15.1" height="25.68" fill="#00BFC4" stroke="#262626" stroke-width="1.45"/>
<path d="M1016.81 236.46H1031.91" stroke="#1c1c1c" stroke-width="3.0" fill="none"/>
<circle cx="1024.36" cy="151.26" r="3.15" fill="#141414"/>
<circle cx="1024.36" cy="159.61" r="3.15" fill="#141414"/>
<path d="M1044.09 208.27V238.96M1044.09 261.3V276.55" stroke="#4a4a4a" stroke-width="1.9" fill="none"/>
<rect x="1036.54" y="238.96" width="15.1" height="22.34" fill="#00B0F6" stroke="#262626" stroke-width="1.45"/>
<path d="M1036.54 248.36H1051.64" stroke="#1c1c1c" stroke-width="3.0" fill="none"/>
<circle cx="1044.09" cy="202" r="3.15" fill="#141414"/>
<path d="M1063.83 200.75V230.61M1063.83 261.3V267.15" stroke="#4a4a4a" stroke-width="1.9" fill="none"/>
<rect x="1056.28" y="230.61" width="15.1" height="30.7" fill="#9590FF" stroke="#262626" stroke-width="1.45"/>
<path d="M1056.28 248.36H1071.38" stroke="#1c1c1c" stroke-width="3.0" fill="none"/>
<path d="M1083.56 162.75V171.72M1083.56 191.56V198.66" stroke="#4a4a4a" stroke-width="1.9" fill="none"/>
<rect x="1076.01" y="171.72" width="15.1" height="19.84" fill="#E76BF3" stroke="#262626" stroke-width="1.45"/>
<path d="M1076.01 181.54H1091.11" stroke="#1c1c1c" stroke-width="3.0" fill="none"/>
<path d="M1103.3 136.23V172.56M1103.3 209.1V241.68" stroke="#4a4a4a" stroke-width="1.9" fill="none"/>
<rect x="1095.75" y="172.56" width="15.1" height="36.54" fill="#FF62BC" stroke="#262626" stroke-width="1.45"/>
<path d="M1095.75 184.04H1110.85" stroke="#1c1c1c" stroke-width="3.0" fill="none"/>
<rect x="917.2" y="363.1" width="16.97" height="17.1" fill="#F8766D"/>
<rect x="936.93" y="374.5" width="16.97" height="5.7" fill="#D89000"/>
<rect x="1035.61" y="375.8" width="16.97" height="4.4" fill="#00B0F6"/>
<rect x="1055.34" y="375.8" width="16.97" height="4.4" fill="#9590FF"/>
<rect x="1094.81" y="355.2" width="16.97" height="25" fill="#FF62BC"/>
<rect x="1124.7" y="74.5" width="201.3" height="231.1" fill="#ebebeb"/>
<path d="M1124.7 80.7H1326M1124.7 123.7H1326M1124.7 182.6H1326M1124.7 247.3H1326M1124.7 297.8H1326" stroke="#fff" stroke-width="1.35" fill="none"/>
<path d="M1124.7 105.3H1326M1124.7 141.9H1326M1124.7 222.7H1326M1124.7 272.4H1326" stroke="#fff" stroke-width="2.3" fill="none"/>
<path d="M1136.54 74.5V305.6M1156.28 74.5V305.6M1176.01 74.5V305.6M1195.75 74.5V305.6M1215.48 74.5V305.6M1235.22 74.5V305.6M1254.95 74.5V305.6M1274.69 74.5V305.6M1294.42 74.5V305.6M1314.16 74.5V305.6" stroke="#fff" stroke-width="1.9" fill="none"/>
<rect x="1124.7" y="313.8" width="201.3" height="68.9" fill="#ebebeb"/>
<path d="M1124.7 334.8H1326M1124.7 365.1H1326" stroke="#fff" stroke-width="1.35" fill="none"/>
<path d="M1124.7 319.3H1326M1124.7 349.8H1326M1124.7 380.2H1326" stroke="#fff" stroke-width="2.3" fill="none"/>
<path d="M1136.54 313.8V382.7M1156.28 313.8V382.7M1176.01 313.8V382.7M1195.75 313.8V382.7M1215.48 313.8V382.7M1235.22 313.8V382.7M1254.95 313.8V382.7M1274.69 313.8V382.7M1294.42 313.8V382.7M1314.16 313.8V382.7" stroke="#fff" stroke-width="1.9" fill="none"/>
<path d="M1136.54 198.66V212.86M1136.54 241.05V259.22" stroke="#4a4a4a" stroke-width="1.9" fill="none"/>
<rect x="1128.99" y="212.86" width="15.1" height="28.19" fill="#F8766D" stroke="#262626" stroke-width="1.45"/>
<path d="M1128.99 226.02H1144.09" stroke="#1c1c1c" stroke-width="3.0" fill="none"/>
<path d="M1156.28 196.78V215.99M1156.28 233.11V246.69" stroke="#4a4a4a" stroke-width="1.9" fill="none"/>
<rect x="1148.73" y="215.99" width="15.1" height="17.12" fill="#D89000" stroke="#262626" stroke-width="1.45"/>
<path d="M1148.73 225.39H1163.83" stroke="#1c1c1c" stroke-width="3.0" fill="none"/>
<circle cx="1156.28" cy="179.45" r="3.15" fill="#141414"/>
<path d="M1176.01 207.22V225.39M1176.01 246.27V271.74" stroke="#4a4a4a" stroke-width="1.9" fill="none"/>
<rect x="1168.46" y="225.39" width="15.1" height="20.88" fill="#A3A500" stroke="#262626" stroke-width="1.45"/>
<path d="M1168.46 234.16H1183.56" stroke="#1c1c1c" stroke-width="3.0" fill="none"/>
<path d="M1195.75 207.22V226.85M1195.75 252.12V266.11" stroke="#4a4a4a" stroke-width="1.9" fill="none"/>
<rect x="1188.2" y="226.85" width="15.1" height="25.27" fill="#39B600" stroke="#262626" stroke-width="1.45"/>
<path d="M1188.2 240.63H1203.3" stroke="#1c1c1c" stroke-width="3.0" fill="none"/>
<path d="M1215.48 203.46V222.67M1215.48 235.2V251.49" stroke="#4a4a4a" stroke-width="1.9" fill="none"/>
<rect x="1207.93" y="222.67" width="15.1" height="12.53" fill="#00BF7D" stroke="#262626" stroke-width="1.45"/>
<path d="M1207.93 228.94H1223.03" stroke="#1c1c1c" stroke-width="3.0" fill="none"/>
<circle cx="1215.48" cy="180.49" r="3.15" fill="#141414"/>
<circle cx="1215.48" cy="194.07" r="3.15" fill="#141414"/>
<circle cx="1215.48" cy="198.24" r="3.15" fill="#141414"/>
<path d="M1235.22 108.45V172.56M1235.22 231.65V259.22" stroke="#4a4a4a" stroke-width="1.9" fill="none"/>
<rect x="1227.67" y="172.56" width="15.1" height="59.09" fill="#00BFC4" stroke="#262626" stroke-width="1.45"/>
<path d="M1227.67 216.41H1242.77" stroke="#1c1c1c" stroke-width="3.0" fill="none"/>
<path d="M1254.95 190.93V219.54M1254.95 242.09V259.22" stroke="#4a4a4a" stroke-width="1.9" fill="none"/>
<rect x="1247.4" y="219.54" width="15.1" height="22.55" fill="#00B0F6" stroke="#262626" stroke-width="1.45"/>
<path d="M1247.4 228.94H1262.5" stroke="#1c1c1c" stroke-width="3.0" fill="none"/>
<path d="M1274.69 201.38V218.5M1274.69 234.37V245.64" stroke="#4a4a4a" stroke-width="1.9" fill="none"/>
<rect x="1267.14" y="218.5" width="15.1" height="15.87" fill="#9590FF" stroke="#262626" stroke-width="1.45"/>
<path d="M1267.14 230.19H1282.24" stroke="#1c1c1c" stroke-width="3.0" fill="none"/>
<circle cx="1274.69" cy="181.96" r="3.15" fill="#141414"/>
<circle cx="1274.69" cy="189.89" r="3.15" fill="#141414"/>
<path d="M1294.42 140.4V151.68M1294.42 172.14V183.21" stroke="#4a4a4a" stroke-width="1.9" fill="none"/>
<rect x="1286.87" y="151.68" width="15.1" height="20.46" fill="#E76BF3" stroke="#262626" stroke-width="1.45"/>
<path d="M1286.87 166.5H1301.97" stroke="#1c1c1c" stroke-width="3.0" fill="none"/>
<path d="M1314.16 119.94V160.66M1314.16 188.85V202.84" stroke="#4a4a4a" stroke-width="1.9" fill="none"/>
<rect x="1306.61" y="160.66" width="15.1" height="28.19" fill="#FF62BC" stroke="#262626" stroke-width="1.45"/>
<path d="M1306.61 174.65H1321.71" stroke="#1c1c1c" stroke-width="3.0" fill="none"/>
<rect x="1128.06" y="359.3" width="16.97" height="20.9" fill="#F8766D"/>
<rect x="1147.79" y="363.1" width="16.97" height="17.1" fill="#D89000"/>
<rect x="1167.53" y="369.7" width="16.97" height="10.5" fill="#A3A500"/>
<rect x="1226.73" y="369.7" width="16.97" height="10.5" fill="#00BFC4"/>
<rect x="1246.47" y="369.7" width="16.97" height="10.5" fill="#00B0F6"/>
<rect x="1266.2" y="375.8" width="16.97" height="4.4" fill="#9590FF"/>
<rect x="1305.67" y="359.3" width="16.97" height="20.9" fill="#FF62BC"/>
<rect x="1335.56" y="74.5" width="201.3" height="231.1" fill="#ebebeb"/>
<path d="M1335.56 80.7H1536.86M1335.56 123.7H1536.86M1335.56 182.6H1536.86M1335.56 247.3H1536.86M1335.56 297.8H1536.86" stroke="#fff" stroke-width="1.35" fill="none"/>
<path d="M1335.56 105.3H1536.86M1335.56 141.9H1536.86M1335.56 222.7H1536.86M1335.56 272.4H1536.86" stroke="#fff" stroke-width="2.3" fill="none"/>
<path d="M1347.4 74.5V305.6M1367.14 74.5V305.6M1386.87 74.5V305.6M1406.61 74.5V305.6M1426.34 74.5V305.6M1446.08 74.5V305.6M1465.81 74.5V305.6M1485.55 74.5V305.6M1505.28 74.5V305.6M1525.02 74.5V305.6" stroke="#fff" stroke-width="1.9" fill="none"/>
<rect x="1335.56" y="313.8" width="201.3" height="68.9" fill="#ebebeb"/>
<path d="M1335.56 334.8H1536.86M1335.56 365.1H1536.86" stroke="#fff" stroke-width="1.35" fill="none"/>
<path d="M1335.56 319.3H1536.86M1335.56 349.8H1536.86M1335.56 380.2H1536.86" stroke="#fff" stroke-width="2.3" fill="none"/>
<path d="M1347.4 313.8V382.7M1367.14 313.8V382.7M1386.87 313.8V382.7M1406.61 313.8V382.7M1426.34 313.8V382.7M1446.08 313.8V382.7M1465.81 313.8V382.7M1485.55 313.8V382.7M1505.28 313.8V382.7M1525.02 313.8V382.7" stroke="#fff" stroke-width="1.9" fill="none"/>
<path d="M1347.4 188.85V229.15M1347.4 259.84V267.15" stroke="#4a4a4a" stroke-width="1.9" fill="none"/>
<rect x="1339.85" y="229.15" width="15.1" height="30.7" fill="#F8766D" stroke="#262626" stroke-width="1.45"/>
<path d="M1339.85 250.03H1354.95" stroke="#1c1c1c" stroke-width="3.0" fill="none"/>
<circle cx="1347.4" cy="165.88" r="3.15" fill="#141414"/>
<path d="M1367.14 197.62V224.34M1367.14 252.95V265.06" stroke="#4a4a4a" stroke-width="1.9" fill="none"/>
<rect x="1359.59" y="224.34" width="15.1" height="28.61" fill="#D89000" stroke="#262626" stroke-width="1.45"/>
<path d="M1359.59 239.38H1374.69" stroke="#1c1c1c" stroke-width="3.0" fill="none"/>
<path d="M1386.87 221.21V241.05M1386.87 264.44V290.54" stroke="#4a4a4a" stroke-width="1.9" fill="none"/>
<rect x="1379.32" y="241.05" width="15.1" height="23.39" fill="#A3A500" stroke="#262626" stroke-width="1.45"/>
<path d="M1379.32 252.53H1394.42" stroke="#1c1c1c" stroke-width="3.0" fill="none"/>
<path d="M1406.61 221.84V238.96M1406.61 268.2V279.68" stroke="#4a4a4a" stroke-width="1.9" fill="none"/>
<rect x="1399.06" y="238.96" width="15.1" height="29.23" fill="#39B600" stroke="#262626" stroke-width="1.45"/>
<path d="M1399.06 250.45H1414.16" stroke="#1c1c1c" stroke-width="3.0" fill="none"/>
<path d="M1426.34 205.13V232.07M1426.34 252.12V280.72" stroke="#4a4a4a" stroke-width="1.9" fill="none"/>
<rect x="1418.79" y="232.07" width="15.1" height="20.05" fill="#00BF7D" stroke="#262626" stroke-width="1.45"/>
<path d="M1418.79 239.38H1433.89" stroke="#1c1c1c" stroke-width="3.0" fill="none"/>
<path d="M1446.08 151.26V210.77M1446.08 251.07V271.74" stroke="#4a4a4a" stroke-width="1.9" fill="none"/>
<rect x="1438.53" y="210.77" width="15.1" height="40.3" fill="#00BFC4" stroke="#262626" stroke-width="1.45"/>
<path d="M1438.53 235.2H1453.63" stroke="#1c1c1c" stroke-width="3.0" fill="none"/>
<path d="M1465.81 224.76V245.64M1465.81 266.73V283.44" stroke="#4a4a4a" stroke-width="1.9" fill="none"/>
<rect x="1458.26" y="245.64" width="15.1" height="21.09" fill="#00B0F6" stroke="#262626" stroke-width="1.45"/>
<path d="M1458.26 260.89H1473.36" stroke="#1c1c1c" stroke-width="3.0" fill="none"/>
<path d="M1485.55 228.52V247.73M1485.55 262.97V280.72" stroke="#4a4a4a" stroke-width="1.9" fill="none"/>
<rect x="1478" y="247.73" width="15.1" height="15.24" fill="#9590FF" stroke="#262626" stroke-width="1.45"/>
<path d="M1478 254H1493.1" stroke="#1c1c1c" stroke-width="3.0" fill="none"/>
<circle cx="1485.55" cy="222.67" r="3.15" fill="#141414"/>
<circle cx="1485.55" cy="291.16" r="3.15" fill="#141414"/>
<path d="M1505.28 169.43V182.58M1505.28 198.66V206.6" stroke="#4a4a4a" stroke-width="1.9" fill="none"/>
<rect x="1497.73" y="182.58" width="15.1" height="16.08" fill="#E76BF3" stroke="#262626" stroke-width="1.45"/>
<path d="M1497.73 191.98H1512.83" stroke="#1c1c1c" stroke-width="3.0" fill="none"/>
<circle cx="1505.28" cy="152.72" r="3.15" fill="#141414"/>
<circle cx="1505.28" cy="221.21" r="3.15" fill="#141414"/>
<path d="M1525.02 161.7V184.67M1525.02 226.85V276.55" stroke="#4a4a4a" stroke-width="1.9" fill="none"/>
<rect x="1517.47" y="184.67" width="15.1" height="42.18" fill="#FF62BC" stroke="#262626" stroke-width="1.45"/>
<path d="M1517.47 206.6H1532.57" stroke="#1c1c1c" stroke-width="3.0" fill="none"/>
<rect x="1338.92" y="358.3" width="16.97" height="21.9" fill="#F8766D"/>
<rect x="1358.65" y="376.7" width="16.97" height="3.5" fill="#D89000"/>
<rect x="1516.53" y="375.8" width="16.97" height="4.4" fill="#FF62BC"/>
<rect x="1546.42" y="74.5" width="201.3" height="231.1" fill="#ebebeb"/>
<path d="M1546.42 80.7H1747.72M1546.42 123.7H1747.72M1546.42 182.6H1747.72M1546.42 247.3H1747.72M1546.42 297.8H1747.72" stroke="#fff" stroke-width="1.35" fill="none"/>
<path d="M1546.42 105.3H1747.72M1546.42 141.9H1747.72M1546.42 222.7H1747.72M1546.42 272.4H1747.72" stroke="#fff" stroke-width="2.3" fill="none"/>
<path d="M1558.26 74.5V305.6M1578 74.5V305.6M1597.73 74.5V305.6M1617.47 74.5V305.6M1637.2 74.5V305.6M1656.94 74.5V305.6M1676.67 74.5V305.6M1696.41 74.5V305.6M1716.14 74.5V305.6M1735.88 74.5V305.6" stroke="#fff" stroke-width="1.9" fill="none"/>
<rect x="1546.42" y="313.8" width="201.3" height="68.9" fill="#ebebeb"/>
<path d="M1546.42 334.8H1747.72M1546.42 365.1H1747.72" stroke="#fff" stroke-width="1.35" fill="none"/>
<path d="M1546.42 319.3H1747.72M1546.42 349.8H1747.72M1546.42 380.2H1747.72" stroke="#fff" stroke-width="2.3" fill="none"/>
<path d="M1558.26 313.8V382.7M1578 313.8V382.7M1597.73 313.8V382.7M1617.47 313.8V382.7M1637.2 313.8V382.7M1656.94 313.8V382.7M1676.67 313.8V382.7M1696.41 313.8V382.7M1716.14 313.8V382.7M1735.88 313.8V382.7" stroke="#fff" stroke-width="1.9" fill="none"/>
<path d="M1558.26 205.55V229.15M1558.26 258.17V266.11" stroke="#4a4a4a" stroke-width="1.9" fill="none"/>
<rect x="1550.71" y="229.15" width="15.1" height="29.02" fill="#F8766D" stroke="#262626" stroke-width="1.45"/>
<path d="M1550.71 243.14H1565.81" stroke="#1c1c1c" stroke-width="3.0" fill="none"/>
<circle cx="1558.26" cy="186.13" r="3.15" fill="#141414"/>
<path d="M1578 201.38V225.39M1578 244.18V262.56" stroke="#4a4a4a" stroke-width="1.9" fill="none"/>
<rect x="1570.45" y="225.39" width="15.1" height="18.79" fill="#D89000" stroke="#262626" stroke-width="1.45"/>
<path d="M1570.45 235.2H1585.55" stroke="#1c1c1c" stroke-width="3.0" fill="none"/>
<path d="M1597.73 208.27V234.16M1597.73 262.97V280.72" stroke="#4a4a4a" stroke-width="1.9" fill="none"/>
<rect x="1590.18" y="234.16" width="15.1" height="28.82" fill="#A3A500" stroke="#262626" stroke-width="1.45"/>
<path d="M1590.18 245.85H1605.28" stroke="#1c1c1c" stroke-width="3.0" fill="none"/>
<path d="M1617.47 228.94V240.01M1617.47 264.44V273.83" stroke="#4a4a4a" stroke-width="1.9" fill="none"/>
<rect x="1609.92" y="240.01" width="15.1" height="24.43" fill="#39B600" stroke="#262626" stroke-width="1.45"/>
<path d="M1609.92 251.49H1625.02" stroke="#1c1c1c" stroke-width="3.0" fill="none"/>
<path d="M1637.2 212.23V228.52M1637.2 251.07V267.15" stroke="#4a4a4a" stroke-width="1.9" fill="none"/>
<rect x="1629.65" y="228.52" width="15.1" height="22.55" fill="#00BF7D" stroke="#262626" stroke-width="1.45"/>
<path d="M1629.65 240.63H1644.75" stroke="#1c1c1c" stroke-width="3.0" fill="none"/>
<path d="M1656.94 200.75V224.34M1656.94 247.94V265.06" stroke="#4a4a4a" stroke-width="1.9" fill="none"/>
<rect x="1649.39" y="224.34" width="15.1" height="23.6" fill="#00BFC4" stroke="#262626" stroke-width="1.45"/>
<path d="M1649.39 239.38H1664.49" stroke="#1c1c1c" stroke-width="3.0" fill="none"/>
<circle cx="1656.94" cy="131.01" r="3.15" fill="#141414"/>
<circle cx="1656.94" cy="163.37" r="3.15" fill="#141414"/>
<path d="M1676.67 235.83V253.58M1676.67 266.73V277.59" stroke="#4a4a4a" stroke-width="1.9" fill="none"/>
<rect x="1669.12" y="253.58" width="15.1" height="13.16" fill="#00B0F6" stroke="#262626" stroke-width="1.45"/>
<path d="M1669.12 257.34H1684.22" stroke="#1c1c1c" stroke-width="3.0" fill="none"/>
<circle cx="1676.67" cy="223.72" r="3.15" fill="#141414"/>
<path d="M1696.41 205.55V234.16M1696.41 261.51V277.59" stroke="#4a4a4a" stroke-width="1.9" fill="none"/>
<rect x="1688.86" y="234.16" width="15.1" height="27.35" fill="#9590FF" stroke="#262626" stroke-width="1.45"/>
<path d="M1688.86 252.95H1703.96" stroke="#1c1c1c" stroke-width="3.0" fill="none"/>
<path d="M1716.14 175.27V183.21M1716.14 193.02V199.29" stroke="#4a4a4a" stroke-width="1.9" fill="none"/>
<rect x="1708.59" y="183.21" width="15.1" height="9.81" fill="#E76BF3" stroke="#262626" stroke-width="1.45"/>
<path d="M1708.59 188.22H1723.69" stroke="#1c1c1c" stroke-width="3.0" fill="none"/>
<path d="M1735.88 158.99V180.91M1735.88 213.28V224.34" stroke="#4a4a4a" stroke-width="1.9" fill="none"/>
<rect x="1728.33" y="180.91" width="15.1" height="32.37" fill="#FF62BC" stroke="#262626" stroke-width="1.45"/>
<path d="M1728.33 196.15H1743.43" stroke="#1c1c1c" stroke-width="3.0" fill="none"/>
<circle cx="1735.88" cy="118.89" r="3.15" fill="#141414"/>
<rect x="1549.78" y="375.8" width="16.97" height="4.4" fill="#F8766D"/>
<rect x="1569.51" y="375.8" width="16.97" height="4.4" fill="#D89000"/>
<rect x="1589.25" y="375.8" width="16.97" height="4.4" fill="#A3A500"/>
<rect x="1687.92" y="369.7" width="16.97" height="10.5" fill="#9590FF"/>
<rect x="1727.39" y="365" width="16.97" height="15.2" fill="#FF62BC"/>
<rect x="1757.28" y="74.5" width="201.3" height="231.1" fill="#ebebeb"/>
<path d="M1757.28 80.7H1958.58M1757.28 123.7H1958.58M1757.28 182.6H1958.58M1757.28 247.3H1958.58M1757.28 297.8H1958.58" stroke="#fff" stroke-width="1.35" fill="none"/>
<path d="M1757.28 105.3H1958.58M1757.28 141.9H1958.58M1757.28 222.7H1958.58M1757.28 272.4H1958.58" stroke="#fff" stroke-width="2.3" fill="none"/>
<path d="M1769.12 74.5V305.6M1788.86 74.5V305.6M1808.59 74.5V305.6M1828.33 74.5V305.6M1848.06 74.5V305.6M1867.8 74.5V305.6M1887.53 74.5V305.6M1907.27 74.5V305.6M1927 74.5V305.6M1946.74 74.5V305.6" stroke="#fff" stroke-width="1.9" fill="none"/>
<rect x="1757.28" y="313.8" width="201.3" height="68.9" fill="#ebebeb"/>
<path d="M1757.28 334.8H1958.58M1757.28 365.1H1958.58" stroke="#fff" stroke-width="1.35" fill="none"/>
<path d="M1757.28 319.3H1958.58M1757.28 349.8H1958.58M1757.28 380.2H1958.58" stroke="#fff" stroke-width="2.3" fill="none"/>
<path d="M1769.12 313.8V382.7M1788.86 313.8V382.7M1808.59 313.8V382.7M1828.33 313.8V382.7M1848.06 313.8V382.7M1867.8 313.8V382.7M1887.53 313.8V382.7M1907.27 313.8V382.7M1927 313.8V382.7M1946.74 313.8V382.7" stroke="#fff" stroke-width="1.9" fill="none"/>
<path d="M1769.12 196.78V217.66M1769.12 242.09V256.29" stroke="#4a4a4a" stroke-width="1.9" fill="none"/>
<rect x="1761.57" y="217.66" width="15.1" height="24.43" fill="#F8766D" stroke="#262626" stroke-width="1.45"/>
<path d="M1761.57 237.92H1776.67" stroke="#1c1c1c" stroke-width="3.0" fill="none"/>
<path d="M1788.86 197.62V212.44M1788.86 231.65V246.27" stroke="#4a4a4a" stroke-width="1.9" fill="none"/>
<rect x="1781.31" y="212.44" width="15.1" height="19.21" fill="#D89000" stroke="#262626" stroke-width="1.45"/>
<path d="M1781.31 222.26H1796.41" stroke="#1c1c1c" stroke-width="3.0" fill="none"/>
<circle cx="1788.86" cy="159.61" r="3.15" fill="#141414"/>
<circle cx="1788.86" cy="182.16" r="3.15" fill="#141414"/>
<path d="M1808.59 203.46V224.34M1808.59 246.27V262.97" stroke="#4a4a4a" stroke-width="1.9" fill="none"/>
<rect x="1801.04" y="224.34" width="15.1" height="21.93" fill="#A3A500" stroke="#262626" stroke-width="1.45"/>
<path d="M1801.04 237.92H1816.14" stroke="#1c1c1c" stroke-width="3.0" fill="none"/>
<path d="M1828.33 193.02V224.34M1828.33 258.8V267.15" stroke="#4a4a4a" stroke-width="1.9" fill="none"/>
<rect x="1820.78" y="224.34" width="15.1" height="34.45" fill="#39B600" stroke="#262626" stroke-width="1.45"/>
<path d="M1820.78 237.92H1835.88" stroke="#1c1c1c" stroke-width="3.0" fill="none"/>
<path d="M1848.06 121.61V171.72M1848.06 207.22V240.01" stroke="#4a4a4a" stroke-width="1.9" fill="none"/>
<rect x="1840.51" y="171.72" width="15.1" height="35.5" fill="#00BF7D" stroke="#262626" stroke-width="1.45"/>
<path d="M1840.51 181.54H1855.61" stroke="#1c1c1c" stroke-width="3.0" fill="none"/>
<path d="M1867.8 147.08V188.85M1867.8 229.15V252.53" stroke="#4a4a4a" stroke-width="1.9" fill="none"/>
<rect x="1860.25" y="188.85" width="15.1" height="40.3" fill="#00BFC4" stroke="#262626" stroke-width="1.45"/>
<path d="M1860.25 204.51H1875.35" stroke="#1c1c1c" stroke-width="3.0" fill="none"/>
<circle cx="1867.8" cy="86.53" r="3.15" fill="#141414"/>
<path d="M1887.53 203.46V224.34M1887.53 244.18V259.22" stroke="#4a4a4a" stroke-width="1.9" fill="none"/>
<rect x="1879.98" y="224.34" width="15.1" height="19.84" fill="#00B0F6" stroke="#262626" stroke-width="1.45"/>
<path d="M1879.98 232.7H1895.08" stroke="#1c1c1c" stroke-width="3.0" fill="none"/>
<path d="M1907.27 190.93V212.44M1907.27 245.23V259.22" stroke="#4a4a4a" stroke-width="1.9" fill="none"/>
<rect x="1899.72" y="212.44" width="15.1" height="32.78" fill="#9590FF" stroke="#262626" stroke-width="1.45"/>
<path d="M1899.72 225.81H1914.82" stroke="#1c1c1c" stroke-width="3.0" fill="none"/>
<path d="M1927 151.26V166.92M1927 181.12V190.31" stroke="#4a4a4a" stroke-width="1.9" fill="none"/>
<rect x="1919.45" y="166.92" width="15.1" height="14.2" fill="#E76BF3" stroke="#262626" stroke-width="1.45"/>
<path d="M1919.45 174.23H1934.55" stroke="#1c1c1c" stroke-width="3.0" fill="none"/>
<circle cx="1927" cy="137.69" r="3.15" fill="#141414"/>
<path d="M1946.74 141.24V170.05M1946.74 188.85V200.96" stroke="#4a4a4a" stroke-width="1.9" fill="none"/>
<rect x="1939.19" y="170.05" width="15.1" height="18.79" fill="#FF62BC" stroke="#262626" stroke-width="1.45"/>
<path d="M1939.19 181.54H1954.29" stroke="#1c1c1c" stroke-width="3.0" fill="none"/>
<circle cx="1946.74" cy="134.97" r="3.15" fill="#141414"/>
<rect x="1760.64" y="371.3" width="16.97" height="8.9" fill="#F8766D"/>
<rect x="1780.37" y="363.1" width="16.97" height="17.1" fill="#D89000"/>
<rect x="1819.84" y="375.8" width="16.97" height="4.4" fill="#39B600"/>
<rect x="1839.58" y="369.7" width="16.97" height="10.5" fill="#00BF7D"/>
<rect x="1859.31" y="327.9" width="16.97" height="52.3" fill="#00BFC4"/>
<rect x="1879.05" y="375.8" width="16.97" height="4.4" fill="#00B0F6"/>
<rect x="1898.78" y="365" width="16.97" height="15.2" fill="#9590FF"/>
<rect x="1938.25" y="375.8" width="16.97" height="4.4" fill="#FF62BC"/>
<path d="M63.9 105.3H69.6" stroke="#333" stroke-width="2.1"/>
<text transform="translate(59.3,114.2)" font-size="19.8" text-anchor="end" fill="#444444" stroke="#444444" stroke-width="0.25">5.0</text>
<path d="M63.9 141.9H69.6" stroke="#333" stroke-width="2.1"/>
<text transform="translate(59.3,150.8)" font-size="19.8" text-anchor="end" fill="#444444" stroke="#444444" stroke-width="0.25">3.0</text>
<path d="M63.9 222.7H69.6" stroke="#333" stroke-width="2.1"/>
<text transform="translate(59.3,231.6)" font-size="19.8" text-anchor="end" fill="#444444" stroke="#444444" stroke-width="0.25">1.0</text>
<path d="M63.9 272.4H69.6" stroke="#333" stroke-width="2.1"/>
<text transform="translate(59.3,281.3)" font-size="19.8" text-anchor="end" fill="#444444" stroke="#444444" stroke-width="0.25">0.5</text>
<path d="M63.9 319.3H69.6" stroke="#333" stroke-width="2.1"/>
<text transform="translate(59.3,328.2)" font-size="19.8" text-anchor="end" fill="#444444" stroke="#444444" stroke-width="0.25">0.4</text>
<path d="M63.9 349.8H69.6" stroke="#333" stroke-width="2.1"/>
<text transform="translate(59.3,358.7)" font-size="19.8" text-anchor="end" fill="#444444" stroke="#444444" stroke-width="0.25">0.2</text>
<path d="M63.9 380.2H69.6" stroke="#333" stroke-width="2.1"/>
<text transform="translate(59.3,389.1)" font-size="19.8" text-anchor="end" fill="#444444" stroke="#444444" stroke-width="0.25">0.0</text>
<text transform="translate(22.8,190.85) rotate(-90) scale(0.985,1)" font-size="27.4" text-anchor="middle" fill="#000" stroke="#000" stroke-width="0.5">Time (s)</text>
<text transform="translate(22.8,349.05) rotate(-90) scale(0.985,1)" font-size="27.4" text-anchor="middle" fill="#000" stroke="#000" stroke-width="0.5">Misses</text>
<rect x="70.4" y="399.6" width="201.3" height="229.8" fill="#ebebeb"/>
<path d="M70.4 453.2H271.7M70.4 525.7H271.7M70.4 595.9H271.7" stroke="#fff" stroke-width="1.35" fill="none"/>
<path d="M70.4 414.2H271.7M70.4 490.9H271.7M70.4 560.8H271.7" stroke="#fff" stroke-width="2.3" fill="none"/>
<path d="M85.13 399.6V629.4M109.68 399.6V629.4M134.23 399.6V629.4M158.78 399.6V629.4M183.32 399.6V629.4M207.87 399.6V629.4M232.42 399.6V629.4M256.97 399.6V629.4" stroke="#fff" stroke-width="1.9" fill="none"/>
<rect x="70.4" y="638.8" width="201.3" height="68.5" fill="#ebebeb"/>
<path d="M70.4 658.7H271.7M70.4 689.5H271.7" stroke="#fff" stroke-width="1.35" fill="none"/>
<path d="M70.4 643.5H271.7M70.4 674.3H271.7M70.4 704.1H271.7" stroke="#fff" stroke-width="2.3" fill="none"/>
<path d="M85.13 638.8V707.3M109.68 638.8V707.3M134.23 638.8V707.3M158.78 638.8V707.3M183.32 638.8V707.3M207.87 638.8V707.3M232.42 638.8V707.3M256.97 638.8V707.3" stroke="#fff" stroke-width="1.9" fill="none"/>
<path d="M85.13 560.41V581.29M85.13 604.68V617.63" stroke="#4a4a4a" stroke-width="1.9" fill="none"/>
<rect x="75.74" y="581.29" width="18.78" height="23.39" fill="#A3A500" stroke="#262626" stroke-width="1.45"/>
<path d="M75.74 598.42H94.52" stroke="#1c1c1c" stroke-width="3.0" fill="none"/>
<path d="M109.68 553.94V579.2M109.68 601.55V610.53" stroke="#4a4a4a" stroke-width="1.9" fill="none"/>
<rect x="100.29" y="579.2" width="18.78" height="22.34" fill="#39B600" stroke="#262626" stroke-width="1.45"/>
<path d="M100.29 593.2H119.07" stroke="#1c1c1c" stroke-width="3.0" fill="none"/>
<path d="M134.23 572.31V586.93M134.23 603.64V608.44" stroke="#4a4a4a" stroke-width="1.9" fill="none"/>
<rect x="124.84" y="586.93" width="18.78" height="16.7" fill="#00BF7D" stroke="#262626" stroke-width="1.45"/>
<path d="M124.84 596.74H143.62" stroke="#1c1c1c" stroke-width="3.0" fill="none"/>
<path d="M158.78 535.35V554.15M158.78 573.36V593.61" stroke="#4a4a4a" stroke-width="1.9" fill="none"/>
<rect x="149.39" y="554.15" width="18.78" height="19.21" fill="#00BFC4" stroke="#262626" stroke-width="1.45"/>
<path d="M149.39 565.01H168.17" stroke="#1c1c1c" stroke-width="3.0" fill="none"/>
<circle cx="158.78" cy="610.32" r="3.15" fill="#141414"/>
<path d="M183.32 551.85V567.51M183.32 583.17V600.5" stroke="#4a4a4a" stroke-width="1.9" fill="none"/>
<rect x="173.93" y="567.51" width="18.78" height="15.66" fill="#00B0F6" stroke="#262626" stroke-width="1.45"/>
<path d="M173.93 577.12H192.71" stroke="#1c1c1c" stroke-width="3.0" fill="none"/>
<circle cx="183.32" cy="611.36" r="3.15" fill="#141414"/>
<path d="M207.87 513.22V554.56M207.87 584.84V591.52" stroke="#4a4a4a" stroke-width="1.9" fill="none"/>
<rect x="198.48" y="554.56" width="18.78" height="30.28" fill="#9590FF" stroke="#262626" stroke-width="1.45"/>
<path d="M198.48 572.73H217.26" stroke="#1c1c1c" stroke-width="3.0" fill="none"/>
<path d="M232.42 515.31V520.74M232.42 527.42V534.31" stroke="#4a4a4a" stroke-width="1.9" fill="none"/>
<rect x="223.03" y="520.74" width="18.78" height="6.68" fill="#E76BF3" stroke="#262626" stroke-width="1.45"/>
<path d="M223.03 523.66H241.81" stroke="#1c1c1c" stroke-width="3.0" fill="none"/>
<circle cx="232.42" cy="492.97" r="3.15" fill="#141414"/>
<circle cx="232.42" cy="505.08" r="3.15" fill="#141414"/>
<path d="M256.97 484.61V506.54M256.97 522.62V540.99" stroke="#4a4a4a" stroke-width="1.9" fill="none"/>
<rect x="247.58" y="506.54" width="18.78" height="16.08" fill="#FF62BC" stroke="#262626" stroke-width="1.45"/>
<path d="M247.58 514.47H266.36" stroke="#1c1c1c" stroke-width="3.0" fill="none"/>
<circle cx="256.97" cy="547.88" r="3.15" fill="#141414"/>
<rect x="172.77" y="702.2" width="21.11" height="1.9" fill="#00B0F6"/>
<rect x="197.32" y="693" width="21.11" height="11.1" fill="#9590FF"/>
<rect x="246.41" y="689.8" width="21.11" height="14.3" fill="#FF62BC"/>
<rect x="281.26" y="399.6" width="201.3" height="229.8" fill="#ebebeb"/>
<path d="M281.26 453.2H482.56M281.26 525.7H482.56M281.26 595.9H482.56" stroke="#fff" stroke-width="1.35" fill="none"/>
<path d="M281.26 414.2H482.56M281.26 490.9H482.56M281.26 560.8H482.56" stroke="#fff" stroke-width="2.3" fill="none"/>
<path d="M295.99 399.6V629.4M320.54 399.6V629.4M345.09 399.6V629.4M369.64 399.6V629.4M394.18 399.6V629.4M418.73 399.6V629.4M443.28 399.6V629.4M467.83 399.6V629.4" stroke="#fff" stroke-width="1.9" fill="none"/>
<rect x="281.26" y="638.8" width="201.3" height="68.5" fill="#ebebeb"/>
<path d="M281.26 658.7H482.56M281.26 689.5H482.56" stroke="#fff" stroke-width="1.35" fill="none"/>
<path d="M281.26 643.5H482.56M281.26 674.3H482.56M281.26 704.1H482.56" stroke="#fff" stroke-width="2.3" fill="none"/>
<path d="M295.99 638.8V707.3M320.54 638.8V707.3M345.09 638.8V707.3M369.64 638.8V707.3M394.18 638.8V707.3M418.73 638.8V707.3M443.28 638.8V707.3M467.83 638.8V707.3" stroke="#fff" stroke-width="1.9" fill="none"/>
<path d="M295.99 560.41V576.49M295.99 600.5V615.12" stroke="#4a4a4a" stroke-width="1.9" fill="none"/>
<rect x="286.6" y="576.49" width="18.78" height="24.01" fill="#A3A500" stroke="#262626" stroke-width="1.45"/>
<path d="M286.6 587.97H305.38" stroke="#1c1c1c" stroke-width="3.0" fill="none"/>
<path d="M320.54 559.79V579.2M320.54 601.55V618.25" stroke="#4a4a4a" stroke-width="1.9" fill="none"/>
<rect x="311.15" y="579.2" width="18.78" height="22.34" fill="#39B600" stroke="#262626" stroke-width="1.45"/>
<path d="M311.15 591.52H329.93" stroke="#1c1c1c" stroke-width="3.0" fill="none"/>
<path d="M345.09 565.42V585.47M345.09 601.55V613.45" stroke="#4a4a4a" stroke-width="1.9" fill="none"/>
<rect x="335.7" y="585.47" width="18.78" height="16.08" fill="#00BF7D" stroke="#262626" stroke-width="1.45"/>
<path d="M335.7 593.2H354.48" stroke="#1c1c1c" stroke-width="3.0" fill="none"/>
<path d="M369.64 519.69V548.93M369.64 576.49V601.55" stroke="#4a4a4a" stroke-width="1.9" fill="none"/>
<rect x="360.25" y="548.93" width="18.78" height="27.56" fill="#00BFC4" stroke="#262626" stroke-width="1.45"/>
<path d="M360.25 560.83H379.03" stroke="#1c1c1c" stroke-width="3.0" fill="none"/>
<path d="M394.18 518.02V547.88M394.18 576.49V593.2" stroke="#4a4a4a" stroke-width="1.9" fill="none"/>
<rect x="384.79" y="547.88" width="18.78" height="28.61" fill="#00B0F6" stroke="#262626" stroke-width="1.45"/>
<path d="M384.79 558.11H403.57" stroke="#1c1c1c" stroke-width="3.0" fill="none"/>
<path d="M418.73 503.41V534.31M418.73 573.36V583.38" stroke="#4a4a4a" stroke-width="1.9" fill="none"/>
<rect x="409.34" y="534.31" width="18.78" height="39.05" fill="#9590FF" stroke="#262626" stroke-width="1.45"/>
<path d="M409.34 553.94H428.12" stroke="#1c1c1c" stroke-width="3.0" fill="none"/>
<path d="M443.28 500.27V511.76M443.28 523.87V529.93" stroke="#4a4a4a" stroke-width="1.9" fill="none"/>
<rect x="433.89" y="511.76" width="18.78" height="12.11" fill="#E76BF3" stroke="#262626" stroke-width="1.45"/>
<path d="M433.89 516.56H452.67" stroke="#1c1c1c" stroke-width="3.0" fill="none"/>
<circle cx="443.28" cy="477.93" r="3.15" fill="#141414"/>
<path d="M467.83 481.9V492.55M467.83 522.62V543.5" stroke="#4a4a4a" stroke-width="1.9" fill="none"/>
<rect x="458.44" y="492.55" width="18.78" height="30.07" fill="#FF62BC" stroke="#262626" stroke-width="1.45"/>
<path d="M458.44 507.16H477.22" stroke="#1c1c1c" stroke-width="3.0" fill="none"/>
<rect x="309.98" y="702.2" width="21.11" height="1.9" fill="#39B600"/>
<rect x="359.08" y="702.2" width="21.11" height="1.9" fill="#00BFC4"/>
<rect x="383.63" y="694.3" width="21.11" height="9.8" fill="#00B0F6"/>
<rect x="408.18" y="682.2" width="21.11" height="21.9" fill="#9590FF"/>
<rect x="457.27" y="698.4" width="21.11" height="5.7" fill="#FF62BC"/>
<rect x="492.12" y="399.6" width="201.3" height="229.8" fill="#ebebeb"/>
<path d="M492.12 453.2H693.42M492.12 525.7H693.42M492.12 595.9H693.42" stroke="#fff" stroke-width="1.35" fill="none"/>
<path d="M492.12 414.2H693.42M492.12 490.9H693.42M492.12 560.8H693.42" stroke="#fff" stroke-width="2.3" fill="none"/>
<path d="M506.85 399.6V629.4M531.4 399.6V629.4M555.95 399.6V629.4M580.5 399.6V629.4M605.04 399.6V629.4M629.59 399.6V629.4M654.14 399.6V629.4M678.69 399.6V629.4" stroke="#fff" stroke-width="1.9" fill="none"/>
<rect x="492.12" y="638.8" width="201.3" height="68.5" fill="#ebebeb"/>
<path d="M492.12 658.7H693.42M492.12 689.5H693.42" stroke="#fff" stroke-width="1.35" fill="none"/>
<path d="M492.12 643.5H693.42M492.12 674.3H693.42M492.12 704.1H693.42" stroke="#fff" stroke-width="2.3" fill="none"/>
<path d="M506.85 638.8V707.3M531.4 638.8V707.3M555.95 638.8V707.3M580.5 638.8V707.3M605.04 638.8V707.3M629.59 638.8V707.3M654.14 638.8V707.3M678.69 638.8V707.3" stroke="#fff" stroke-width="1.9" fill="none"/>
<path d="M506.85 556.65V580.25M506.85 599.46V615.12" stroke="#4a4a4a" stroke-width="1.9" fill="none"/>
<rect x="497.46" y="580.25" width="18.78" height="19.21" fill="#A3A500" stroke="#262626" stroke-width="1.45"/>
<path d="M497.46 587.97H516.24" stroke="#1c1c1c" stroke-width="3.0" fill="none"/>
<path d="M531.4 565.01V584.22M531.4 597.37V610.53" stroke="#4a4a4a" stroke-width="1.9" fill="none"/>
<rect x="522.01" y="584.22" width="18.78" height="13.16" fill="#39B600" stroke="#262626" stroke-width="1.45"/>
<path d="M522.01 589.44H540.79" stroke="#1c1c1c" stroke-width="3.0" fill="none"/>
<circle cx="531.4" cy="561.46" r="3.15" fill="#141414"/>
<path d="M555.95 573.36V586.93M555.95 599.46V610.53" stroke="#4a4a4a" stroke-width="1.9" fill="none"/>
<rect x="546.56" y="586.93" width="18.78" height="12.53" fill="#00BF7D" stroke="#262626" stroke-width="1.45"/>
<path d="M546.56 594.66H565.34" stroke="#1c1c1c" stroke-width="3.0" fill="none"/>
<circle cx="555.95" cy="530.55" r="3.15" fill="#141414"/>
<path d="M580.5 523.66V542.66M580.5 569.18V586.3" stroke="#4a4a4a" stroke-width="1.9" fill="none"/>
<rect x="571.11" y="542.66" width="18.78" height="26.52" fill="#00BFC4" stroke="#262626" stroke-width="1.45"/>
<path d="M571.11 555.19H589.89" stroke="#1c1c1c" stroke-width="3.0" fill="none"/>
<circle cx="580.5" cy="456.42" r="3.15" fill="#141414"/>
<circle cx="580.5" cy="484.61" r="3.15" fill="#141414"/>
<path d="M605.04 451.83V507.58M605.04 554.56V579.62" stroke="#4a4a4a" stroke-width="1.9" fill="none"/>
<rect x="595.65" y="507.58" width="18.78" height="46.98" fill="#00B0F6" stroke="#262626" stroke-width="1.45"/>
<path d="M595.65 529.93H614.43" stroke="#1c1c1c" stroke-width="3.0" fill="none"/>
<path d="M629.59 476.89V505.49M629.59 538.28V568.76" stroke="#4a4a4a" stroke-width="1.9" fill="none"/>
<rect x="620.2" y="505.49" width="18.78" height="32.78" fill="#9590FF" stroke="#262626" stroke-width="1.45"/>
<path d="M620.2 523.24H638.98" stroke="#1c1c1c" stroke-width="3.0" fill="none"/>
<path d="M654.14 495.47V502.36M654.14 514.26V526.79" stroke="#4a4a4a" stroke-width="1.9" fill="none"/>
<rect x="644.75" y="502.36" width="18.78" height="11.9" fill="#E76BF3" stroke="#262626" stroke-width="1.45"/>
<path d="M644.75 507.58H663.53" stroke="#1c1c1c" stroke-width="3.0" fill="none"/>
<circle cx="654.14" cy="418.84" r="3.15" fill="#141414"/>
<circle cx="654.14" cy="461.64" r="3.15" fill="#141414"/>
<circle cx="654.14" cy="478.35" r="3.15" fill="#141414"/>
<circle cx="654.14" cy="481.9" r="3.15" fill="#141414"/>
<path d="M678.69 456.84V483.57M678.69 509.04V530.55" stroke="#4a4a4a" stroke-width="1.9" fill="none"/>
<rect x="669.3" y="483.57" width="18.78" height="25.48" fill="#FF62BC" stroke="#262626" stroke-width="1.45"/>
<path d="M669.3 494.64H688.08" stroke="#1c1c1c" stroke-width="3.0" fill="none"/>
<circle cx="678.69" cy="410.9" r="3.15" fill="#141414"/>
<rect x="520.84" y="702.2" width="21.11" height="1.9" fill="#39B600"/>
<rect x="545.39" y="702.2" width="21.11" height="1.9" fill="#00BF7D"/>
<rect x="569.94" y="694.3" width="21.11" height="9.8" fill="#00BFC4"/>
<rect x="594.49" y="671.4" width="21.11" height="32.7" fill="#00B0F6"/>
<rect x="619.04" y="648" width="21.11" height="56.1" fill="#9590FF"/>
<rect x="702.98" y="399.6" width="201.3" height="229.8" fill="#ebebeb"/>
<path d="M702.98 453.2H904.28M702.98 525.7H904.28M702.98 595.9H904.28" stroke="#fff" stroke-width="1.35" fill="none"/>
<path d="M702.98 414.2H904.28M702.98 490.9H904.28M702.98 560.8H904.28" stroke="#fff" stroke-width="2.3" fill="none"/>
<path d="M717.71 399.6V629.4M742.26 399.6V629.4M766.81 399.6V629.4M791.36 399.6V629.4M815.9 399.6V629.4M840.45 399.6V629.4M865 399.6V629.4M889.55 399.6V629.4" stroke="#fff" stroke-width="1.9" fill="none"/>
<rect x="702.98" y="638.8" width="201.3" height="68.5" fill="#ebebeb"/>
<path d="M702.98 658.7H904.28M702.98 689.5H904.28" stroke="#fff" stroke-width="1.35" fill="none"/>
<path d="M702.98 643.5H904.28M702.98 674.3H904.28M702.98 704.1H904.28" stroke="#fff" stroke-width="2.3" fill="none"/>
<path d="M717.71 638.8V707.3M742.26 638.8V707.3M766.81 638.8V707.3M791.36 638.8V707.3M815.9 638.8V707.3M840.45 638.8V707.3M865 638.8V707.3M889.55 638.8V707.3" stroke="#fff" stroke-width="1.9" fill="none"/>
<path d="M717.71 530.55V557.7M717.71 576.49V595.7" stroke="#4a4a4a" stroke-width="1.9" fill="none"/>
<rect x="708.32" y="557.7" width="18.78" height="18.79" fill="#A3A500" stroke="#262626" stroke-width="1.45"/>
<path d="M708.32 570.23H727.1" stroke="#1c1c1c" stroke-width="3.0" fill="none"/>
<path d="M742.26 548.93V566.68M742.26 586.93V593.61" stroke="#4a4a4a" stroke-width="1.9" fill="none"/>
<rect x="732.87" y="566.68" width="18.78" height="20.25" fill="#39B600" stroke="#262626" stroke-width="1.45"/>
<path d="M732.87 575.45H751.65" stroke="#1c1c1c" stroke-width="3.0" fill="none"/>
<path d="M766.81 472.08V510.3M766.81 537.23V559.16" stroke="#4a4a4a" stroke-width="1.9" fill="none"/>
<rect x="757.42" y="510.3" width="18.78" height="26.94" fill="#00BF7D" stroke="#262626" stroke-width="1.45"/>
<path d="M757.42 528.46H776.2" stroke="#1c1c1c" stroke-width="3.0" fill="none"/>
<path d="M791.36 535.35V545.17M791.36 559.37V571.69" stroke="#4a4a4a" stroke-width="1.9" fill="none"/>
<rect x="781.97" y="545.17" width="18.78" height="14.2" fill="#00BFC4" stroke="#262626" stroke-width="1.45"/>
<path d="M781.97 553.1H800.75" stroke="#1c1c1c" stroke-width="3.0" fill="none"/>
<circle cx="791.36" cy="508.63" r="3.15" fill="#141414"/>
<circle cx="791.36" cy="517.4" r="3.15" fill="#141414"/>
<circle cx="791.36" cy="522.2" r="3.15" fill="#141414"/>
<circle cx="791.36" cy="582.75" r="3.15" fill="#141414"/>
<circle cx="791.36" cy="588.6" r="3.15" fill="#141414"/>
<path d="M815.9 532.22V558.74M815.9 580.25V592.57" stroke="#4a4a4a" stroke-width="1.9" fill="none"/>
<rect x="806.51" y="558.74" width="18.78" height="21.51" fill="#00B0F6" stroke="#262626" stroke-width="1.45"/>
<path d="M806.51 572.73H825.29" stroke="#1c1c1c" stroke-width="3.0" fill="none"/>
<path d="M840.45 524.7V551.85M840.45 580.25V591.52" stroke="#4a4a4a" stroke-width="1.9" fill="none"/>
<rect x="831.06" y="551.85" width="18.78" height="28.4" fill="#9590FF" stroke="#262626" stroke-width="1.45"/>
<path d="M831.06 568.14H849.84" stroke="#1c1c1c" stroke-width="3.0" fill="none"/>
<circle cx="840.45" cy="502.36" r="3.15" fill="#141414"/>
<path d="M865 505.49V518.02M865 528.46V530.55" stroke="#4a4a4a" stroke-width="1.9" fill="none"/>
<rect x="855.61" y="518.02" width="18.78" height="10.44" fill="#E76BF3" stroke="#262626" stroke-width="1.45"/>
<path d="M855.61 522.2H874.39" stroke="#1c1c1c" stroke-width="3.0" fill="none"/>
<circle cx="865" cy="499.86" r="3.15" fill="#141414"/>
<path d="M889.55 486.7V500.69M889.55 515.93V538.28" stroke="#4a4a4a" stroke-width="1.9" fill="none"/>
<rect x="880.16" y="500.69" width="18.78" height="15.24" fill="#FF62BC" stroke="#262626" stroke-width="1.45"/>
<path d="M880.16 508H898.94" stroke="#1c1c1c" stroke-width="3.0" fill="none"/>
<circle cx="889.55" cy="464.78" r="3.15" fill="#141414"/>
<rect x="707.15" y="698.4" width="21.11" height="5.7" fill="#A3A500"/>
<rect x="731.7" y="702.2" width="21.11" height="1.9" fill="#39B600"/>
<rect x="756.25" y="702.2" width="21.11" height="1.9" fill="#00BF7D"/>
<rect x="780.8" y="702.2" width="21.11" height="1.9" fill="#00BFC4"/>
<rect x="805.35" y="702.2" width="21.11" height="1.9" fill="#00B0F6"/>
<rect x="829.9" y="698.4" width="21.11" height="5.7" fill="#9590FF"/>
<rect x="878.99" y="698.4" width="21.11" height="5.7" fill="#FF62BC"/>
<rect x="913.84" y="399.6" width="201.3" height="229.8" fill="#ebebeb"/>
<path d="M913.84 453.2H1115.14M913.84 525.7H1115.14M913.84 595.9H1115.14" stroke="#fff" stroke-width="1.35" fill="none"/>
<path d="M913.84 414.2H1115.14M913.84 490.9H1115.14M913.84 560.8H1115.14" stroke="#fff" stroke-width="2.3" fill="none"/>
<path d="M928.57 399.6V629.4M953.12 399.6V629.4M977.67 399.6V629.4M1002.22 399.6V629.4M1026.76 399.6V629.4M1051.31 399.6V629.4M1075.86 399.6V629.4M1100.41 399.6V629.4" stroke="#fff" stroke-width="1.9" fill="none"/>
<rect x="913.84" y="638.8" width="201.3" height="68.5" fill="#ebebeb"/>
<path d="M913.84 658.7H1115.14M913.84 689.5H1115.14" stroke="#fff" stroke-width="1.35" fill="none"/>
<path d="M913.84 643.5H1115.14M913.84 674.3H1115.14M913.84 704.1H1115.14" stroke="#fff" stroke-width="2.3" fill="none"/>
<path d="M928.57 638.8V707.3M953.12 638.8V707.3M977.67 638.8V707.3M1002.22 638.8V707.3M1026.76 638.8V707.3M1051.31 638.8V707.3M1075.86 638.8V707.3M1100.41 638.8V707.3" stroke="#fff" stroke-width="1.9" fill="none"/>
<path d="M928.57 532.22V552.48M928.57 575.03V596.74" stroke="#4a4a4a" stroke-width="1.9" fill="none"/>
<rect x="919.18" y="552.48" width="18.78" height="22.55" fill="#A3A500" stroke="#262626" stroke-width="1.45"/>
<path d="M919.18 561.46H937.96" stroke="#1c1c1c" stroke-width="3.0" fill="none"/>
<path d="M953.12 542.04V559.79M953.12 573.36V587.56" stroke="#4a4a4a" stroke-width="1.9" fill="none"/>
<rect x="943.73" y="559.79" width="18.78" height="13.57" fill="#39B600" stroke="#262626" stroke-width="1.45"/>
<path d="M943.73 565.63H962.51" stroke="#1c1c1c" stroke-width="3.0" fill="none"/>
<circle cx="953.12" cy="538.28" r="3.15" fill="#141414"/>
<path d="M977.67 496.52V513.22M977.67 538.28V555.19" stroke="#4a4a4a" stroke-width="1.9" fill="none"/>
<rect x="968.28" y="513.22" width="18.78" height="25.06" fill="#00BF7D" stroke="#262626" stroke-width="1.45"/>
<path d="M968.28 525.33H987.06" stroke="#1c1c1c" stroke-width="3.0" fill="none"/>
<path d="M1002.22 502.36V531.6M1002.22 553.52V569.81" stroke="#4a4a4a" stroke-width="1.9" fill="none"/>
<rect x="992.83" y="531.6" width="18.78" height="21.93" fill="#00BFC4" stroke="#262626" stroke-width="1.45"/>
<path d="M992.83 542.04H1011.61" stroke="#1c1c1c" stroke-width="3.0" fill="none"/>
<circle cx="1002.22" cy="491.5" r="3.15" fill="#141414"/>
<path d="M1026.76 509.04V544.54M1026.76 568.14V573.36" stroke="#4a4a4a" stroke-width="1.9" fill="none"/>
<rect x="1017.37" y="544.54" width="18.78" height="23.6" fill="#00B0F6" stroke="#262626" stroke-width="1.45"/>
<path d="M1017.37 558.11H1036.15" stroke="#1c1c1c" stroke-width="3.0" fill="none"/>
<path d="M1051.31 503.41V535.77M1051.31 572.31V585.47" stroke="#4a4a4a" stroke-width="1.9" fill="none"/>
<rect x="1041.92" y="535.77" width="18.78" height="36.54" fill="#9590FF" stroke="#262626" stroke-width="1.45"/>
<path d="M1041.92 553.94H1060.7" stroke="#1c1c1c" stroke-width="3.0" fill="none"/>
<path d="M1075.86 499.23V514.89M1075.86 530.55V536.82" stroke="#4a4a4a" stroke-width="1.9" fill="none"/>
<rect x="1066.47" y="514.89" width="18.78" height="15.66" fill="#E76BF3" stroke="#262626" stroke-width="1.45"/>
<path d="M1066.47 520.11H1085.25" stroke="#1c1c1c" stroke-width="3.0" fill="none"/>
<circle cx="1075.86" cy="487.75" r="3.15" fill="#141414"/>
<path d="M1100.41 472.08V496.72M1100.41 513.22V525.75" stroke="#4a4a4a" stroke-width="1.9" fill="none"/>
<rect x="1091.02" y="496.72" width="18.78" height="16.5" fill="#FF62BC" stroke="#262626" stroke-width="1.45"/>
<path d="M1091.02 505.49H1109.8" stroke="#1c1c1c" stroke-width="3.0" fill="none"/>
<rect x="918.01" y="693" width="21.11" height="11.1" fill="#A3A500"/>
<rect x="942.56" y="696.8" width="21.11" height="7.3" fill="#39B600"/>
<rect x="991.66" y="700.6" width="21.11" height="3.5" fill="#00BFC4"/>
<rect x="1016.21" y="686" width="21.11" height="18.1" fill="#00B0F6"/>
<rect x="1040.76" y="688.9" width="21.11" height="15.2" fill="#9590FF"/>
<rect x="1089.85" y="694.3" width="21.11" height="9.8" fill="#FF62BC"/>
<rect x="1124.7" y="399.6" width="201.3" height="229.8" fill="#ebebeb"/>
<path d="M1124.7 453.2H1326M1124.7 525.7H1326M1124.7 595.9H1326" stroke="#fff" stroke-width="1.35" fill="none"/>
<path d="M1124.7 414.2H1326M1124.7 490.9H1326M1124.7 560.8H1326" stroke="#fff" stroke-width="2.3" fill="none"/>
<path d="M1139.43 399.6V629.4M1163.98 399.6V629.4M1188.53 399.6V629.4M1213.08 399.6V629.4M1237.62 399.6V629.4M1262.17 399.6V629.4M1286.72 399.6V629.4M1311.27 399.6V629.4" stroke="#fff" stroke-width="1.9" fill="none"/>
<rect x="1124.7" y="638.8" width="201.3" height="68.5" fill="#ebebeb"/>
<path d="M1124.7 658.7H1326M1124.7 689.5H1326" stroke="#fff" stroke-width="1.35" fill="none"/>
<path d="M1124.7 643.5H1326M1124.7 674.3H1326M1124.7 704.1H1326" stroke="#fff" stroke-width="2.3" fill="none"/>
<path d="M1139.43 638.8V707.3M1163.98 638.8V707.3M1188.53 638.8V707.3M1213.08 638.8V707.3M1237.62 638.8V707.3M1262.17 638.8V707.3M1286.72 638.8V707.3M1311.27 638.8V707.3" stroke="#fff" stroke-width="1.9" fill="none"/>
<path d="M1139.43 523.66V542.66M1139.43 561.46V573.36" stroke="#4a4a4a" stroke-width="1.9" fill="none"/>
<rect x="1130.04" y="542.66" width="18.78" height="18.79" fill="#A3A500" stroke="#262626" stroke-width="1.45"/>
<path d="M1130.04 549.76H1148.82" stroke="#1c1c1c" stroke-width="3.0" fill="none"/>
<circle cx="1139.43" cy="509.04" r="3.15" fill="#141414"/>
<path d="M1163.98 524.7V534.73M1163.98 569.6V580.25" stroke="#4a4a4a" stroke-width="1.9" fill="none"/>
<rect x="1154.59" y="534.73" width="18.78" height="34.87" fill="#39B600" stroke="#262626" stroke-width="1.45"/>
<path d="M1154.59 553.1H1173.37" stroke="#1c1c1c" stroke-width="3.0" fill="none"/>
<path d="M1188.53 495.47V509.25M1188.53 529.51V548.3" stroke="#4a4a4a" stroke-width="1.9" fill="none"/>
<rect x="1179.14" y="509.25" width="18.78" height="20.25" fill="#00BF7D" stroke="#262626" stroke-width="1.45"/>
<path d="M1179.14 520.74H1197.92" stroke="#1c1c1c" stroke-width="3.0" fill="none"/>
<circle cx="1188.53" cy="453.92" r="3.15" fill="#141414"/>
<circle cx="1188.53" cy="475.22" r="3.15" fill="#141414"/>
<circle cx="1188.53" cy="478.77" r="3.15" fill="#141414"/>
<path d="M1213.08 492.55V523.87M1213.08 551.85V568.76" stroke="#4a4a4a" stroke-width="1.9" fill="none"/>
<rect x="1203.69" y="523.87" width="18.78" height="27.98" fill="#00BFC4" stroke="#262626" stroke-width="1.45"/>
<path d="M1203.69 535.77H1222.47" stroke="#1c1c1c" stroke-width="3.0" fill="none"/>
<circle cx="1213.08" cy="453.92" r="3.15" fill="#141414"/>
<path d="M1237.62 465.4V515.93M1237.62 549.34V576.49" stroke="#4a4a4a" stroke-width="1.9" fill="none"/>
<rect x="1228.23" y="515.93" width="18.78" height="33.41" fill="#00B0F6" stroke="#262626" stroke-width="1.45"/>
<path d="M1228.23 535.77H1247.01" stroke="#1c1c1c" stroke-width="3.0" fill="none"/>
<path d="M1262.17 481.9V513.22M1262.17 543.08V558.11" stroke="#4a4a4a" stroke-width="1.9" fill="none"/>
<rect x="1252.78" y="513.22" width="18.78" height="29.86" fill="#9590FF" stroke="#262626" stroke-width="1.45"/>
<path d="M1252.78 520.74H1271.56" stroke="#1c1c1c" stroke-width="3.0" fill="none"/>
<path d="M1286.72 442.85V478.97M1286.72 508V522.83" stroke="#4a4a4a" stroke-width="1.9" fill="none"/>
<rect x="1277.33" y="478.97" width="18.78" height="29.02" fill="#E76BF3" stroke="#262626" stroke-width="1.45"/>
<path d="M1277.33 494.64H1296.11" stroke="#1c1c1c" stroke-width="3.0" fill="none"/>
<path d="M1311.27 472.08V487.75M1311.27 512.38V531.6" stroke="#4a4a4a" stroke-width="1.9" fill="none"/>
<rect x="1301.88" y="487.75" width="18.78" height="24.64" fill="#FF62BC" stroke="#262626" stroke-width="1.45"/>
<path d="M1301.88 501.32H1320.66" stroke="#1c1c1c" stroke-width="3.0" fill="none"/>
<rect x="1128.87" y="683.2" width="21.11" height="20.9" fill="#A3A500"/>
<rect x="1177.97" y="702.2" width="21.11" height="1.9" fill="#00BF7D"/>
<rect x="1202.52" y="698.4" width="21.11" height="5.7" fill="#00BFC4"/>
<rect x="1227.07" y="679.4" width="21.11" height="24.7" fill="#00B0F6"/>
<rect x="1251.62" y="674.3" width="21.11" height="29.8" fill="#9590FF"/>
<rect x="1300.71" y="688.9" width="21.11" height="15.2" fill="#FF62BC"/>
<rect x="1335.56" y="399.6" width="201.3" height="229.8" fill="#ebebeb"/>
<path d="M1335.56 453.2H1536.86M1335.56 525.7H1536.86M1335.56 595.9H1536.86" stroke="#fff" stroke-width="1.35" fill="none"/>
<path d="M1335.56 414.2H1536.86M1335.56 490.9H1536.86M1335.56 560.8H1536.86" stroke="#fff" stroke-width="2.3" fill="none"/>
<path d="M1350.29 399.6V629.4M1374.84 399.6V629.4M1399.39 399.6V629.4M1423.94 399.6V629.4M1448.48 399.6V629.4M1473.03 399.6V629.4M1497.58 399.6V629.4M1522.13 399.6V629.4" stroke="#fff" stroke-width="1.9" fill="none"/>
<rect x="1335.56" y="638.8" width="201.3" height="68.5" fill="#ebebeb"/>
<path d="M1335.56 658.7H1536.86M1335.56 689.5H1536.86" stroke="#fff" stroke-width="1.35" fill="none"/>
<path d="M1335.56 643.5H1536.86M1335.56 674.3H1536.86M1335.56 704.1H1536.86" stroke="#fff" stroke-width="2.3" fill="none"/>
<path d="M1350.29 638.8V707.3M1374.84 638.8V707.3M1399.39 638.8V707.3M1423.94 638.8V707.3M1448.48 638.8V707.3M1473.03 638.8V707.3M1497.58 638.8V707.3M1522.13 638.8V707.3" stroke="#fff" stroke-width="1.9" fill="none"/>
<path d="M1350.29 511.76V550.39M1350.29 577.95V610.53" stroke="#4a4a4a" stroke-width="1.9" fill="none"/>
<rect x="1340.9" y="550.39" width="18.78" height="27.56" fill="#A3A500" stroke="#262626" stroke-width="1.45"/>
<path d="M1340.9 563.54H1359.68" stroke="#1c1c1c" stroke-width="3.0" fill="none"/>
<path d="M1374.84 530.55V559.79M1374.84 582.34V590.06" stroke="#4a4a4a" stroke-width="1.9" fill="none"/>
<rect x="1365.45" y="559.79" width="18.78" height="22.55" fill="#39B600" stroke="#262626" stroke-width="1.45"/>
<path d="M1365.45 571.27H1384.23" stroke="#1c1c1c" stroke-width="3.0" fill="none"/>
<path d="M1399.39 485.66V510.3M1399.39 539.95V558.74" stroke="#4a4a4a" stroke-width="1.9" fill="none"/>
<rect x="1390" y="510.3" width="18.78" height="29.65" fill="#00BF7D" stroke="#262626" stroke-width="1.45"/>
<path d="M1390 525.33H1408.78" stroke="#1c1c1c" stroke-width="3.0" fill="none"/>
<path d="M1423.94 510.3V537.44M1423.94 558.74V584.84" stroke="#4a4a4a" stroke-width="1.9" fill="none"/>
<rect x="1414.55" y="537.44" width="18.78" height="21.3" fill="#00BFC4" stroke="#262626" stroke-width="1.45"/>
<path d="M1414.55 543.08H1433.33" stroke="#1c1c1c" stroke-width="3.0" fill="none"/>
<circle cx="1423.94" cy="484.61" r="3.15" fill="#141414"/>
<circle cx="1423.94" cy="592.57" r="3.15" fill="#141414"/>
<path d="M1448.48 544.12V556.03M1448.48 579.2V598.42" stroke="#4a4a4a" stroke-width="1.9" fill="none"/>
<rect x="1439.09" y="556.03" width="18.78" height="23.18" fill="#00B0F6" stroke="#262626" stroke-width="1.45"/>
<path d="M1439.09 570.23H1457.87" stroke="#1c1c1c" stroke-width="3.0" fill="none"/>
<path d="M1473.03 516.98V549.34M1473.03 583.17V591.52" stroke="#4a4a4a" stroke-width="1.9" fill="none"/>
<rect x="1463.64" y="549.34" width="18.78" height="33.83" fill="#9590FF" stroke="#262626" stroke-width="1.45"/>
<path d="M1463.64 554.56H1482.42" stroke="#1c1c1c" stroke-width="3.0" fill="none"/>
<path d="M1497.58 513.22V519.69M1497.58 527.42V533.68" stroke="#4a4a4a" stroke-width="1.9" fill="none"/>
<rect x="1488.19" y="519.69" width="18.78" height="7.73" fill="#E76BF3" stroke="#262626" stroke-width="1.45"/>
<path d="M1488.19 521.57H1506.97" stroke="#1c1c1c" stroke-width="3.0" fill="none"/>
<circle cx="1497.58" cy="505.08" r="3.15" fill="#141414"/>
<path d="M1522.13 488.79V499.65M1522.13 515.93V536.4" stroke="#4a4a4a" stroke-width="1.9" fill="none"/>
<rect x="1512.74" y="499.65" width="18.78" height="16.29" fill="#FF62BC" stroke="#262626" stroke-width="1.45"/>
<path d="M1512.74 506.96H1531.52" stroke="#1c1c1c" stroke-width="3.0" fill="none"/>
<rect x="1339.73" y="698.4" width="21.11" height="5.7" fill="#A3A500"/>
<rect x="1364.28" y="700.6" width="21.11" height="3.5" fill="#39B600"/>
<rect x="1388.83" y="700.6" width="21.11" height="3.5" fill="#00BF7D"/>
<rect x="1437.93" y="698.4" width="21.11" height="5.7" fill="#00B0F6"/>
<rect x="1462.48" y="698.4" width="21.11" height="5.7" fill="#9590FF"/>
<rect x="1511.57" y="696.8" width="21.11" height="7.3" fill="#FF62BC"/>
<rect x="1546.42" y="399.6" width="201.3" height="229.8" fill="#ebebeb"/>
<path d="M1546.42 453.2H1747.72M1546.42 525.7H1747.72M1546.42 595.9H1747.72" stroke="#fff" stroke-width="1.35" fill="none"/>
<path d="M1546.42 414.2H1747.72M1546.42 490.9H1747.72M1546.42 560.8H1747.72" stroke="#fff" stroke-width="2.3" fill="none"/>
<path d="M1561.15 399.6V629.4M1585.7 399.6V629.4M1610.25 399.6V629.4M1634.8 399.6V629.4M1659.34 399.6V629.4M1683.89 399.6V629.4M1708.44 399.6V629.4M1732.99 399.6V629.4" stroke="#fff" stroke-width="1.9" fill="none"/>
<rect x="1546.42" y="638.8" width="201.3" height="68.5" fill="#ebebeb"/>
<path d="M1546.42 658.7H1747.72M1546.42 689.5H1747.72" stroke="#fff" stroke-width="1.35" fill="none"/>
<path d="M1546.42 643.5H1747.72M1546.42 674.3H1747.72M1546.42 704.1H1747.72" stroke="#fff" stroke-width="2.3" fill="none"/>
<path d="M1561.15 638.8V707.3M1585.7 638.8V707.3M1610.25 638.8V707.3M1634.8 638.8V707.3M1659.34 638.8V707.3M1683.89 638.8V707.3M1708.44 638.8V707.3M1732.99 638.8V707.3" stroke="#fff" stroke-width="1.9" fill="none"/>
<path d="M1561.15 513.22V545.59M1561.15 573.36V593.61" stroke="#4a4a4a" stroke-width="1.9" fill="none"/>
<rect x="1551.76" y="545.59" width="18.78" height="27.77" fill="#A3A500" stroke="#262626" stroke-width="1.45"/>
<path d="M1551.76 556.65H1570.54" stroke="#1c1c1c" stroke-width="3.0" fill="none"/>
<path d="M1585.7 514.89V548.3M1585.7 573.36V588.6" stroke="#4a4a4a" stroke-width="1.9" fill="none"/>
<rect x="1576.31" y="548.3" width="18.78" height="25.06" fill="#39B600" stroke="#262626" stroke-width="1.45"/>
<path d="M1576.31 563.54H1595.09" stroke="#1c1c1c" stroke-width="3.0" fill="none"/>
<path d="M1610.25 491.5V514.26M1610.25 538.28V550.81" stroke="#4a4a4a" stroke-width="1.9" fill="none"/>
<rect x="1600.86" y="514.26" width="18.78" height="24.01" fill="#00BF7D" stroke="#262626" stroke-width="1.45"/>
<path d="M1600.86 520.11H1619.64" stroke="#1c1c1c" stroke-width="3.0" fill="none"/>
<path d="M1634.8 475.22V517.4M1634.8 546.84V585.89" stroke="#4a4a4a" stroke-width="1.9" fill="none"/>
<rect x="1625.41" y="517.4" width="18.78" height="29.44" fill="#00BFC4" stroke="#262626" stroke-width="1.45"/>
<path d="M1625.41 530.97H1644.19" stroke="#1c1c1c" stroke-width="3.0" fill="none"/>
<path d="M1659.34 514.89V545.59M1659.34 566.05V580.25" stroke="#4a4a4a" stroke-width="1.9" fill="none"/>
<rect x="1649.95" y="545.59" width="18.78" height="20.46" fill="#00B0F6" stroke="#262626" stroke-width="1.45"/>
<path d="M1649.95 560.83H1668.73" stroke="#1c1c1c" stroke-width="3.0" fill="none"/>
<path d="M1683.89 525.33V549.34M1683.89 569.18V579.2" stroke="#4a4a4a" stroke-width="1.9" fill="none"/>
<rect x="1674.5" y="549.34" width="18.78" height="19.84" fill="#9590FF" stroke="#262626" stroke-width="1.45"/>
<path d="M1674.5 561.87H1693.28" stroke="#1c1c1c" stroke-width="3.0" fill="none"/>
<circle cx="1683.89" cy="463.31" r="3.15" fill="#141414"/>
<path d="M1708.44 506.54V513.22M1708.44 523.87V527.42" stroke="#4a4a4a" stroke-width="1.9" fill="none"/>
<rect x="1699.05" y="513.22" width="18.78" height="10.65" fill="#E76BF3" stroke="#262626" stroke-width="1.45"/>
<path d="M1699.05 517.4H1717.83" stroke="#1c1c1c" stroke-width="3.0" fill="none"/>
<circle cx="1708.44" cy="483.57" r="3.15" fill="#141414"/>
<circle cx="1708.44" cy="494.43" r="3.15" fill="#141414"/>
<path d="M1732.99 481.06V496.72M1732.99 515.93V536.19" stroke="#4a4a4a" stroke-width="1.9" fill="none"/>
<rect x="1723.6" y="496.72" width="18.78" height="19.21" fill="#FF62BC" stroke="#262626" stroke-width="1.45"/>
<path d="M1723.6 507.16H1742.38" stroke="#1c1c1c" stroke-width="3.0" fill="none"/>
<circle cx="1732.99" cy="547.88" r="3.15" fill="#141414"/>
<rect x="1550.59" y="690.1" width="21.11" height="14" fill="#A3A500"/>
<rect x="1575.14" y="698.4" width="21.11" height="5.7" fill="#39B600"/>
<rect x="1624.24" y="689.2" width="21.11" height="14.9" fill="#00BFC4"/>
<rect x="1648.79" y="698.4" width="21.11" height="5.7" fill="#00B0F6"/>
<rect x="1673.34" y="694.3" width="21.11" height="9.8" fill="#9590FF"/>
<rect x="1722.43" y="698.4" width="21.11" height="5.7" fill="#FF62BC"/>
<rect x="1757.28" y="399.6" width="201.3" height="229.8" fill="#ebebeb"/>
<path d="M1757.28 453.2H1958.58M1757.28 525.7H1958.58M1757.28 595.9H1958.58" stroke="#fff" stroke-width="1.35" fill="none"/>
<path d="M1757.28 414.2H1958.58M1757.28 490.9H1958.58M1757.28 560.8H1958.58" stroke="#fff" stroke-width="2.3" fill="none"/>
<path d="M1772.01 399.6V629.4M1796.56 399.6V629.4M1821.11 399.6V629.4M1845.66 399.6V629.4M1870.2 399.6V629.4M1894.75 399.6V629.4M1919.3 399.6V629.4M1943.85 399.6V629.4" stroke="#fff" stroke-width="1.9" fill="none"/>
<rect x="1757.28" y="638.8" width="201.3" height="68.5" fill="#ebebeb"/>
<path d="M1757.28 658.7H1958.58M1757.28 689.5H1958.58" stroke="#fff" stroke-width="1.35" fill="none"/>
<path d="M1757.28 643.5H1958.58M1757.28 674.3H1958.58M1757.28 704.1H1958.58" stroke="#fff" stroke-width="2.3" fill="none"/>
<path d="M1772.01 638.8V707.3M1796.56 638.8V707.3M1821.11 638.8V707.3M1845.66 638.8V707.3M1870.2 638.8V707.3M1894.75 638.8V707.3M1919.3 638.8V707.3M1943.85 638.8V707.3" stroke="#fff" stroke-width="1.9" fill="none"/>
<path d="M1772.01 523.66V538.49M1772.01 557.7V582.34" stroke="#4a4a4a" stroke-width="1.9" fill="none"/>
<rect x="1762.62" y="538.49" width="18.78" height="19.21" fill="#A3A500" stroke="#262626" stroke-width="1.45"/>
<path d="M1762.62 548.93H1781.4" stroke="#1c1c1c" stroke-width="3.0" fill="none"/>
<circle cx="1772.01" cy="506.54" r="3.15" fill="#141414"/>
<path d="M1796.56 498.6V524.91M1796.56 554.56V580.25" stroke="#4a4a4a" stroke-width="1.9" fill="none"/>
<rect x="1787.17" y="524.91" width="18.78" height="29.65" fill="#39B600" stroke="#262626" stroke-width="1.45"/>
<path d="M1787.17 543.08H1805.95" stroke="#1c1c1c" stroke-width="3.0" fill="none"/>
<path d="M1821.11 484.61V499.65M1821.11 520.74V549.97" stroke="#4a4a4a" stroke-width="1.9" fill="none"/>
<rect x="1811.72" y="499.65" width="18.78" height="21.09" fill="#00BF7D" stroke="#262626" stroke-width="1.45"/>
<path d="M1811.72 505.49H1830.5" stroke="#1c1c1c" stroke-width="3.0" fill="none"/>
<path d="M1845.66 464.36V499.65M1845.66 530.55V557.7" stroke="#4a4a4a" stroke-width="1.9" fill="none"/>
<rect x="1836.27" y="499.65" width="18.78" height="30.9" fill="#00BFC4" stroke="#262626" stroke-width="1.45"/>
<path d="M1836.27 516.56H1855.05" stroke="#1c1c1c" stroke-width="3.0" fill="none"/>
<circle cx="1845.66" cy="426.56" r="3.15" fill="#141414"/>
<circle cx="1845.66" cy="452.87" r="3.15" fill="#141414"/>
<path d="M1870.2 495.47V523.87M1870.2 544.12V570.23" stroke="#4a4a4a" stroke-width="1.9" fill="none"/>
<rect x="1860.81" y="523.87" width="18.78" height="20.25" fill="#00B0F6" stroke="#262626" stroke-width="1.45"/>
<path d="M1860.81 530.97H1879.59" stroke="#1c1c1c" stroke-width="3.0" fill="none"/>
<circle cx="1870.2" cy="576.49" r="3.15" fill="#141414"/>
<path d="M1894.75 474.17V517.4M1894.75 545.17V564.59" stroke="#4a4a4a" stroke-width="1.9" fill="none"/>
<rect x="1885.36" y="517.4" width="18.78" height="27.77" fill="#9590FF" stroke="#262626" stroke-width="1.45"/>
<path d="M1885.36 526.38H1904.14" stroke="#1c1c1c" stroke-width="3.0" fill="none"/>
<circle cx="1894.75" cy="471.46" r="3.15" fill="#141414"/>
<path d="M1919.3 472.08V487.75M1919.3 508V518.02" stroke="#4a4a4a" stroke-width="1.9" fill="none"/>
<rect x="1909.91" y="487.75" width="18.78" height="20.25" fill="#E76BF3" stroke="#262626" stroke-width="1.45"/>
<path d="M1909.91 496.1H1928.69" stroke="#1c1c1c" stroke-width="3.0" fill="none"/>
<circle cx="1919.3" cy="438.05" r="3.15" fill="#141414"/>
<path d="M1943.85 451.83V483.57M1943.85 506.54V533.27" stroke="#4a4a4a" stroke-width="1.9" fill="none"/>
<rect x="1934.46" y="483.57" width="18.78" height="22.97" fill="#FF62BC" stroke="#262626" stroke-width="1.45"/>
<path d="M1934.46 494.64H1953.24" stroke="#1c1c1c" stroke-width="3.0" fill="none"/>
<rect x="1761.45" y="694.3" width="21.11" height="9.8" fill="#A3A500"/>
<rect x="1786" y="686.3" width="21.11" height="17.8" fill="#39B600"/>
<rect x="1835.1" y="675.6" width="21.11" height="28.5" fill="#00BFC4"/>
<rect x="1859.65" y="694.3" width="21.11" height="9.8" fill="#00B0F6"/>
<rect x="1884.2" y="678.4" width="21.11" height="25.7" fill="#9590FF"/>
<rect x="1933.29" y="702.5" width="21.11" height="1.6" fill="#FF62BC"/>
<path d="M63.9 414.2H69.6" stroke="#333" stroke-width="2.1"/>
<text transform="translate(59.3,423.1)" font-size="19.8" text-anchor="end" fill="#444444" stroke="#444444" stroke-width="0.25">10</text>
<path d="M63.9 490.9H69.6" stroke="#333" stroke-width="2.1"/>
<text transform="translate(59.3,499.8)" font-size="19.8" text-anchor="end" fill="#444444" stroke="#444444" stroke-width="0.25">3</text>
<path d="M63.9 560.8H69.6" stroke="#333" stroke-width="2.1"/>
<text transform="translate(59.3,569.7)" font-size="19.8" text-anchor="end" fill="#444444" stroke="#444444" stroke-width="0.25">1</text>
<path d="M63.9 643.5H69.6" stroke="#333" stroke-width="2.1"/>
<text transform="translate(59.3,652.4)" font-size="19.8" text-anchor="end" fill="#444444" stroke="#444444" stroke-width="0.25">1.0</text>
<path d="M63.9 674.3H69.6" stroke="#333" stroke-width="2.1"/>
<text transform="translate(59.3,683.2)" font-size="19.8" text-anchor="end" fill="#444444" stroke="#444444" stroke-width="0.25">0.5</text>
<path d="M63.9 704.1H69.6" stroke="#333" stroke-width="2.1"/>
<text transform="translate(59.3,713)" font-size="19.8" text-anchor="end" fill="#444444" stroke="#444444" stroke-width="0.25">0.0</text>
<text transform="translate(29.4,515.3) rotate(-90) scale(0.985,1)" font-size="27.4" text-anchor="middle" fill="#000" stroke="#000" stroke-width="0.5">Time (s)</text>
<text transform="translate(29.4,673.85) rotate(-90) scale(0.985,1)" font-size="27.4" text-anchor="middle" fill="#000" stroke="#000" stroke-width="0.5">Misses</text>
<rect x="70.4" y="724.1" width="201.3" height="228" fill="#ebebeb"/>
<path d="M70.4 761.7H271.7M70.4 818.1H271.7M70.4 872.8H271.7M70.4 926.6H271.7" stroke="#fff" stroke-width="1.35" fill="none"/>
<path d="M70.4 735.6H271.7M70.4 787.4H271.7M70.4 847.3H271.7M70.4 900.1H271.7" stroke="#fff" stroke-width="2.3" fill="none"/>
<path d="M85.13 724.1V952.1M109.68 724.1V952.1M134.23 724.1V952.1M158.78 724.1V952.1M183.32 724.1V952.1M207.87 724.1V952.1M232.42 724.1V952.1M256.97 724.1V952.1" stroke="#fff" stroke-width="1.9" fill="none"/>
<rect x="70.4" y="960" width="201.3" height="68.6" fill="#ebebeb"/>
<path d="M70.4 975H271.7M70.4 995.3H271.7M70.4 1015.9H271.7" stroke="#fff" stroke-width="1.35" fill="none"/>
<path d="M70.4 964.9H271.7M70.4 985.2H271.7M70.4 1005.8H271.7M70.4 1026.1H271.7" stroke="#fff" stroke-width="2.3" fill="none"/>
<path d="M85.13 960V1028.6M109.68 960V1028.6M134.23 960V1028.6M158.78 960V1028.6M183.32 960V1028.6M207.87 960V1028.6M232.42 960V1028.6M256.97 960V1028.6" stroke="#fff" stroke-width="1.9" fill="none"/>
<path d="M85.13 900.12V907.84M85.13 927.68V942.3" stroke="#4a4a4a" stroke-width="1.9" fill="none"/>
<rect x="75.74" y="907.84" width="18.78" height="19.84" fill="#A3A500" stroke="#262626" stroke-width="1.45"/>
<path d="M75.74 917.24H94.52" stroke="#1c1c1c" stroke-width="3.0" fill="none"/>
<path d="M109.68 892.18V909.93M109.68 928.72V942.3" stroke="#4a4a4a" stroke-width="1.9" fill="none"/>
<rect x="100.29" y="909.93" width="18.78" height="18.79" fill="#39B600" stroke="#262626" stroke-width="1.45"/>
<path d="M100.29 918.7H119.07" stroke="#1c1c1c" stroke-width="3.0" fill="none"/>
<path d="M134.23 909.93V917.66M134.23 928.72V931.44" stroke="#4a4a4a" stroke-width="1.9" fill="none"/>
<rect x="124.84" y="917.66" width="18.78" height="11.07" fill="#00BF7D" stroke="#262626" stroke-width="1.45"/>
<path d="M124.84 921.42H143.62" stroke="#1c1c1c" stroke-width="3.0" fill="none"/>
<circle cx="134.23" cy="881.74" r="3.15" fill="#141414"/>
<circle cx="134.23" cy="901.58" r="3.15" fill="#141414"/>
<path d="M158.78 840.4V876.1M158.78 900.53V917.24" stroke="#4a4a4a" stroke-width="1.9" fill="none"/>
<rect x="149.39" y="876.1" width="18.78" height="24.43" fill="#00BFC4" stroke="#262626" stroke-width="1.45"/>
<path d="M149.39 883.41H168.17" stroke="#1c1c1c" stroke-width="3.0" fill="none"/>
<path d="M183.32 862.32V885.5M183.32 900.53V914.11" stroke="#4a4a4a" stroke-width="1.9" fill="none"/>
<rect x="173.93" y="885.5" width="18.78" height="15.03" fill="#00B0F6" stroke="#262626" stroke-width="1.45"/>
<path d="M173.93 888.42H192.71" stroke="#1c1c1c" stroke-width="3.0" fill="none"/>
<circle cx="183.32" cy="856.27" r="3.15" fill="#141414"/>
<path d="M207.87 855.22V877.56M207.87 902.2V920.79" stroke="#4a4a4a" stroke-width="1.9" fill="none"/>
<rect x="198.48" y="877.56" width="18.78" height="24.64" fill="#9590FF" stroke="#262626" stroke-width="1.45"/>
<path d="M198.48 891.14H217.26" stroke="#1c1c1c" stroke-width="3.0" fill="none"/>
<path d="M232.42 842.07V857.31M232.42 870.26V875.48" stroke="#4a4a4a" stroke-width="1.9" fill="none"/>
<rect x="223.03" y="857.31" width="18.78" height="12.95" fill="#E76BF3" stroke="#262626" stroke-width="1.45"/>
<path d="M223.03 866.08H241.81" stroke="#1c1c1c" stroke-width="3.0" fill="none"/>
<circle cx="232.42" cy="834.76" r="3.15" fill="#141414"/>
<path d="M256.97 824.94V835.8M256.97 854.6V874.43" stroke="#4a4a4a" stroke-width="1.9" fill="none"/>
<rect x="247.58" y="835.8" width="18.78" height="18.79" fill="#FF62BC" stroke="#262626" stroke-width="1.45"/>
<path d="M247.58 845.62H266.36" stroke="#1c1c1c" stroke-width="3.0" fill="none"/>
<circle cx="256.97" cy="888.42" r="3.15" fill="#141414"/>
<rect x="99.12" y="1024.2" width="21.11" height="1.9" fill="#39B600"/>
<rect x="148.22" y="1023.6" width="21.11" height="2.5" fill="#00BFC4"/>
<rect x="172.77" y="1019.4" width="21.11" height="6.7" fill="#00B0F6"/>
<rect x="197.32" y="1021" width="21.11" height="5.1" fill="#9590FF"/>
<rect x="246.41" y="1019.4" width="21.11" height="6.7" fill="#FF62BC"/>
<rect x="281.26" y="724.1" width="201.3" height="228" fill="#ebebeb"/>
<path d="M281.26 761.7H482.56M281.26 818.1H482.56M281.26 872.8H482.56M281.26 926.6H482.56" stroke="#fff" stroke-width="1.35" fill="none"/>
<path d="M281.26 735.6H482.56M281.26 787.4H482.56M281.26 847.3H482.56M281.26 900.1H482.56" stroke="#fff" stroke-width="2.3" fill="none"/>
<path d="M295.99 724.1V952.1M320.54 724.1V952.1M345.09 724.1V952.1M369.64 724.1V952.1M394.18 724.1V952.1M418.73 724.1V952.1M443.28 724.1V952.1M467.83 724.1V952.1" stroke="#fff" stroke-width="1.9" fill="none"/>
<rect x="281.26" y="960" width="201.3" height="68.6" fill="#ebebeb"/>
<path d="M281.26 975H482.56M281.26 995.3H482.56M281.26 1015.9H482.56" stroke="#fff" stroke-width="1.35" fill="none"/>
<path d="M281.26 964.9H482.56M281.26 985.2H482.56M281.26 1005.8H482.56M281.26 1026.1H482.56" stroke="#fff" stroke-width="2.3" fill="none"/>
<path d="M295.99 960V1028.6M320.54 960V1028.6M345.09 960V1028.6M369.64 960V1028.6M394.18 960V1028.6M418.73 960V1028.6M443.28 960V1028.6M467.83 960V1028.6" stroke="#fff" stroke-width="1.9" fill="none"/>
<path d="M295.99 890.09V905.75M295.99 921.42V934.99" stroke="#4a4a4a" stroke-width="1.9" fill="none"/>
<rect x="286.6" y="905.75" width="18.78" height="15.66" fill="#A3A500" stroke="#262626" stroke-width="1.45"/>
<path d="M286.6 912.02H305.38" stroke="#1c1c1c" stroke-width="3.0" fill="none"/>
<path d="M320.54 890.09V910.97M320.54 926.64V935.41" stroke="#4a4a4a" stroke-width="1.9" fill="none"/>
<rect x="311.15" y="910.97" width="18.78" height="15.66" fill="#39B600" stroke="#262626" stroke-width="1.45"/>
<path d="M311.15 921.42H329.93" stroke="#1c1c1c" stroke-width="3.0" fill="none"/>
<path d="M345.09 905.75V913.48M345.09 927.68V937.49" stroke="#4a4a4a" stroke-width="1.9" fill="none"/>
<rect x="335.7" y="913.48" width="18.78" height="14.2" fill="#00BF7D" stroke="#262626" stroke-width="1.45"/>
<path d="M335.7 920.37H354.48" stroke="#1c1c1c" stroke-width="3.0" fill="none"/>
<circle cx="345.09" cy="885.5" r="3.15" fill="#141414"/>
<circle cx="345.09" cy="890.51" r="3.15" fill="#141414"/>
<path d="M369.64 840.4V872.97M369.64 893.64V909.3" stroke="#4a4a4a" stroke-width="1.9" fill="none"/>
<rect x="360.25" y="872.97" width="18.78" height="20.67" fill="#00BFC4" stroke="#262626" stroke-width="1.45"/>
<path d="M360.25 882.37H379.03" stroke="#1c1c1c" stroke-width="3.0" fill="none"/>
<circle cx="369.64" cy="812.83" r="3.15" fill="#141414"/>
<path d="M394.18 816.38V858.77M394.18 886.54V910.56" stroke="#4a4a4a" stroke-width="1.9" fill="none"/>
<rect x="384.79" y="858.77" width="18.78" height="27.77" fill="#00B0F6" stroke="#262626" stroke-width="1.45"/>
<path d="M384.79 867.54H403.57" stroke="#1c1c1c" stroke-width="3.0" fill="none"/>
<path d="M418.73 795.08V838.93M418.73 888.42V905.75" stroke="#4a4a4a" stroke-width="1.9" fill="none"/>
<rect x="409.34" y="838.93" width="18.78" height="49.49" fill="#9590FF" stroke="#262626" stroke-width="1.45"/>
<path d="M409.34 870.26H428.12" stroke="#1c1c1c" stroke-width="3.0" fill="none"/>
<path d="M443.28 843.74V855.22M443.28 866.08V874.43" stroke="#4a4a4a" stroke-width="1.9" fill="none"/>
<rect x="433.89" y="855.22" width="18.78" height="10.86" fill="#E76BF3" stroke="#262626" stroke-width="1.45"/>
<path d="M433.89 859.82H452.67" stroke="#1c1c1c" stroke-width="3.0" fill="none"/>
<circle cx="443.28" cy="823.9" r="3.15" fill="#141414"/>
<circle cx="443.28" cy="829.54" r="3.15" fill="#141414"/>
<path d="M467.83 776.29V818.68M467.83 853.55V867.54" stroke="#4a4a4a" stroke-width="1.9" fill="none"/>
<rect x="458.44" y="818.68" width="18.78" height="34.87" fill="#FF62BC" stroke="#262626" stroke-width="1.45"/>
<path d="M458.44 834.34H477.22" stroke="#1c1c1c" stroke-width="3.0" fill="none"/>
<rect x="309.98" y="1024.2" width="21.11" height="1.9" fill="#39B600"/>
<rect x="334.53" y="1024.2" width="21.11" height="1.9" fill="#00BF7D"/>
<rect x="359.08" y="1024.2" width="21.11" height="1.9" fill="#00BFC4"/>
<rect x="383.63" y="1009.9" width="21.11" height="16.2" fill="#00B0F6"/>
<rect x="408.18" y="1005.2" width="21.11" height="20.9" fill="#9590FF"/>
<rect x="457.27" y="1022.6" width="21.11" height="3.5" fill="#FF62BC"/>
<rect x="492.12" y="724.1" width="201.3" height="228" fill="#ebebeb"/>
<path d="M492.12 761.7H693.42M492.12 818.1H693.42M492.12 872.8H693.42M492.12 926.6H693.42" stroke="#fff" stroke-width="1.35" fill="none"/>
<path d="M492.12 735.6H693.42M492.12 787.4H693.42M492.12 847.3H693.42M492.12 900.1H693.42" stroke="#fff" stroke-width="2.3" fill="none"/>
<path d="M506.85 724.1V952.1M531.4 724.1V952.1M555.95 724.1V952.1M580.5 724.1V952.1M605.04 724.1V952.1M629.59 724.1V952.1M654.14 724.1V952.1M678.69 724.1V952.1" stroke="#fff" stroke-width="1.9" fill="none"/>
<rect x="492.12" y="960" width="201.3" height="68.6" fill="#ebebeb"/>
<path d="M492.12 975H693.42M492.12 995.3H693.42M492.12 1015.9H693.42" stroke="#fff" stroke-width="1.35" fill="none"/>
<path d="M492.12 964.9H693.42M492.12 985.2H693.42M492.12 1005.8H693.42M492.12 1026.1H693.42" stroke="#fff" stroke-width="2.3" fill="none"/>
<path d="M506.85 960V1028.6M531.4 960V1028.6M555.95 960V1028.6M580.5 960V1028.6M605.04 960V1028.6M629.59 960V1028.6M654.14 960V1028.6M678.69 960V1028.6" stroke="#fff" stroke-width="1.9" fill="none"/>
<path d="M506.85 890.09V907.22M506.85 923.5V937.49" stroke="#4a4a4a" stroke-width="1.9" fill="none"/>
<rect x="497.46" y="907.22" width="18.78" height="16.29" fill="#A3A500" stroke="#262626" stroke-width="1.45"/>
<path d="M497.46 918.7H516.24" stroke="#1c1c1c" stroke-width="3.0" fill="none"/>
<circle cx="506.85" cy="881.74" r="3.15" fill="#141414"/>
<path d="M531.4 895.94V909.93M531.4 921.42V933.53" stroke="#4a4a4a" stroke-width="1.9" fill="none"/>
<rect x="522.01" y="909.93" width="18.78" height="11.48" fill="#39B600" stroke="#262626" stroke-width="1.45"/>
<path d="M522.01 914.52H540.79" stroke="#1c1c1c" stroke-width="3.0" fill="none"/>
<circle cx="531.4" cy="875.06" r="3.15" fill="#141414"/>
<path d="M555.95 900.12V912.44M555.95 921.83V930.39" stroke="#4a4a4a" stroke-width="1.9" fill="none"/>
<rect x="546.56" y="912.44" width="18.78" height="9.4" fill="#00BF7D" stroke="#262626" stroke-width="1.45"/>
<path d="M546.56 917.24H565.34" stroke="#1c1c1c" stroke-width="3.0" fill="none"/>
<path d="M580.5 790.28V848.96M580.5 888.42V916.2" stroke="#4a4a4a" stroke-width="1.9" fill="none"/>
<rect x="571.11" y="848.96" width="18.78" height="39.47" fill="#00BFC4" stroke="#262626" stroke-width="1.45"/>
<path d="M571.11 872.34H589.89" stroke="#1c1c1c" stroke-width="3.0" fill="none"/>
<circle cx="580.5" cy="749.56" r="3.15" fill="#141414"/>
<path d="M605.04 734.95V803.85M605.04 864.41V891.76" stroke="#4a4a4a" stroke-width="1.9" fill="none"/>
<rect x="595.65" y="803.85" width="18.78" height="60.56" fill="#00B0F6" stroke="#262626" stroke-width="1.45"/>
<path d="M595.65 834.76H614.43" stroke="#1c1c1c" stroke-width="3.0" fill="none"/>
<path d="M629.59 734.95V795.08M629.59 850.42V883.41" stroke="#4a4a4a" stroke-width="1.9" fill="none"/>
<rect x="620.2" y="795.08" width="18.78" height="55.34" fill="#9590FF" stroke="#262626" stroke-width="1.45"/>
<path d="M620.2 829.96H638.98" stroke="#1c1c1c" stroke-width="3.0" fill="none"/>
<path d="M654.14 734.95V794.46M654.14 842.48V854.6" stroke="#4a4a4a" stroke-width="1.9" fill="none"/>
<rect x="644.75" y="794.46" width="18.78" height="48.03" fill="#E76BF3" stroke="#262626" stroke-width="1.45"/>
<path d="M644.75 827.03H663.53" stroke="#1c1c1c" stroke-width="3.0" fill="none"/>
<path d="M678.69 774.83V805.11M678.69 835.8V854.6" stroke="#4a4a4a" stroke-width="1.9" fill="none"/>
<rect x="669.3" y="805.11" width="18.78" height="30.7" fill="#FF62BC" stroke="#262626" stroke-width="1.45"/>
<path d="M669.3 827.03H688.08" stroke="#1c1c1c" stroke-width="3.0" fill="none"/>
<rect x="569.94" y="1024.2" width="21.11" height="1.9" fill="#00BFC4"/>
<rect x="594.49" y="982" width="21.11" height="44.1" fill="#00B0F6"/>
<rect x="619.04" y="970" width="21.11" height="56.1" fill="#9590FF"/>
<rect x="668.13" y="1021" width="21.11" height="5.1" fill="#FF62BC"/>
<rect x="702.98" y="724.1" width="201.3" height="228" fill="#ebebeb"/>
<path d="M702.98 761.7H904.28M702.98 818.1H904.28M702.98 872.8H904.28M702.98 926.6H904.28" stroke="#fff" stroke-width="1.35" fill="none"/>
<path d="M702.98 735.6H904.28M702.98 787.4H904.28M702.98 847.3H904.28M702.98 900.1H904.28" stroke="#fff" stroke-width="2.3" fill="none"/>
<path d="M717.71 724.1V952.1M742.26 724.1V952.1M766.81 724.1V952.1M791.36 724.1V952.1M815.9 724.1V952.1M840.45 724.1V952.1M865 724.1V952.1M889.55 724.1V952.1" stroke="#fff" stroke-width="1.9" fill="none"/>
<rect x="702.98" y="960" width="201.3" height="68.6" fill="#ebebeb"/>
<path d="M702.98 975H904.28M702.98 995.3H904.28M702.98 1015.9H904.28" stroke="#fff" stroke-width="1.35" fill="none"/>
<path d="M702.98 964.9H904.28M702.98 985.2H904.28M702.98 1005.8H904.28M702.98 1026.1H904.28" stroke="#fff" stroke-width="2.3" fill="none"/>
<path d="M717.71 960V1028.6M742.26 960V1028.6M766.81 960V1028.6M791.36 960V1028.6M815.9 960V1028.6M840.45 960V1028.6M865 960V1028.6M889.55 960V1028.6" stroke="#fff" stroke-width="1.9" fill="none"/>
<path d="M717.71 864.41V887.59M717.71 908.47V919.74" stroke="#4a4a4a" stroke-width="1.9" fill="none"/>
<rect x="708.32" y="887.59" width="18.78" height="20.88" fill="#A3A500" stroke="#262626" stroke-width="1.45"/>
<path d="M708.32 898.45H727.1" stroke="#1c1c1c" stroke-width="3.0" fill="none"/>
<path d="M742.26 858.35V881.74M742.26 899.49V909.93" stroke="#4a4a4a" stroke-width="1.9" fill="none"/>
<rect x="732.87" y="881.74" width="18.78" height="17.75" fill="#39B600" stroke="#262626" stroke-width="1.45"/>
<path d="M732.87 894.27H751.65" stroke="#1c1c1c" stroke-width="3.0" fill="none"/>
<path d="M766.81 848.33V861.49M766.81 877.56V892.81" stroke="#4a4a4a" stroke-width="1.9" fill="none"/>
<rect x="757.42" y="861.49" width="18.78" height="16.08" fill="#00BF7D" stroke="#262626" stroke-width="1.45"/>
<path d="M757.42 869.21H776.2" stroke="#1c1c1c" stroke-width="3.0" fill="none"/>
<path d="M791.36 843.74V870.88M791.36 889.05V902.2" stroke="#4a4a4a" stroke-width="1.9" fill="none"/>
<rect x="781.97" y="870.88" width="18.78" height="18.17" fill="#00BFC4" stroke="#262626" stroke-width="1.45"/>
<path d="M781.97 878.19H800.75" stroke="#1c1c1c" stroke-width="3.0" fill="none"/>
<path d="M815.9 855.22V876.1M815.9 903.25V916.2" stroke="#4a4a4a" stroke-width="1.9" fill="none"/>
<rect x="806.51" y="876.1" width="18.78" height="27.15" fill="#00B0F6" stroke="#262626" stroke-width="1.45"/>
<path d="M806.51 891.14H825.29" stroke="#1c1c1c" stroke-width="3.0" fill="none"/>
<circle cx="815.9" cy="828.08" r="3.15" fill="#141414"/>
<path d="M840.45 834.13V865.45M840.45 894.9V913.06" stroke="#4a4a4a" stroke-width="1.9" fill="none"/>
<rect x="831.06" y="865.45" width="18.78" height="29.44" fill="#9590FF" stroke="#262626" stroke-width="1.45"/>
<path d="M831.06 876.94H849.84" stroke="#1c1c1c" stroke-width="3.0" fill="none"/>
<path d="M865 850V861.28M865 871.3V875.06" stroke="#4a4a4a" stroke-width="1.9" fill="none"/>
<rect x="855.61" y="861.28" width="18.78" height="10.02" fill="#E76BF3" stroke="#262626" stroke-width="1.45"/>
<path d="M855.61 866.71H874.39" stroke="#1c1c1c" stroke-width="3.0" fill="none"/>
<circle cx="865" cy="814.5" r="3.15" fill="#141414"/>
<circle cx="865" cy="843.74" r="3.15" fill="#141414"/>
<path d="M889.55 804.9V834.34M889.55 856.06V866.5" stroke="#4a4a4a" stroke-width="1.9" fill="none"/>
<rect x="880.16" y="834.34" width="18.78" height="21.72" fill="#FF62BC" stroke="#262626" stroke-width="1.45"/>
<path d="M880.16 841.65H898.94" stroke="#1c1c1c" stroke-width="3.0" fill="none"/>
<circle cx="889.55" cy="782.14" r="3.15" fill="#141414"/>
<rect x="707.15" y="1024.2" width="21.11" height="1.9" fill="#A3A500"/>
<rect x="731.7" y="1021" width="21.11" height="5.1" fill="#39B600"/>
<rect x="756.25" y="1023.6" width="21.11" height="2.5" fill="#00BF7D"/>
<rect x="805.35" y="1022.6" width="21.11" height="3.5" fill="#00B0F6"/>
<rect x="829.9" y="1015.6" width="21.11" height="10.5" fill="#9590FF"/>
<rect x="854.45" y="1024.5" width="21.11" height="1.6" fill="#E76BF3"/>
<rect x="878.99" y="1016.9" width="21.11" height="9.2" fill="#FF62BC"/>
<rect x="913.84" y="724.1" width="201.3" height="228" fill="#ebebeb"/>
<path d="M913.84 761.7H1115.14M913.84 818.1H1115.14M913.84 872.8H1115.14M913.84 926.6H1115.14" stroke="#fff" stroke-width="1.35" fill="none"/>
<path d="M913.84 735.6H1115.14M913.84 787.4H1115.14M913.84 847.3H1115.14M913.84 900.1H1115.14" stroke="#fff" stroke-width="2.3" fill="none"/>
<path d="M928.57 724.1V952.1M953.12 724.1V952.1M977.67 724.1V952.1M1002.22 724.1V952.1M1026.76 724.1V952.1M1051.31 724.1V952.1M1075.86 724.1V952.1M1100.41 724.1V952.1" stroke="#fff" stroke-width="1.9" fill="none"/>
<rect x="913.84" y="960" width="201.3" height="68.6" fill="#ebebeb"/>
<path d="M913.84 975H1115.14M913.84 995.3H1115.14M913.84 1015.9H1115.14" stroke="#fff" stroke-width="1.35" fill="none"/>
<path d="M913.84 964.9H1115.14M913.84 985.2H1115.14M913.84 1005.8H1115.14M913.84 1026.1H1115.14" stroke="#fff" stroke-width="2.3" fill="none"/>
<path d="M928.57 960V1028.6M953.12 960V1028.6M977.67 960V1028.6M1002.22 960V1028.6M1026.76 960V1028.6M1051.31 960V1028.6M1075.86 960V1028.6M1100.41 960V1028.6" stroke="#fff" stroke-width="1.9" fill="none"/>
<path d="M928.57 853.55V877.15M928.57 901.58V921.83" stroke="#4a4a4a" stroke-width="1.9" fill="none"/>
<rect x="919.18" y="877.15" width="18.78" height="24.43" fill="#A3A500" stroke="#262626" stroke-width="1.45"/>
<path d="M919.18 890.09H937.96" stroke="#1c1c1c" stroke-width="3.0" fill="none"/>
<path d="M953.12 837.89V876.1M953.12 901.58V920.79" stroke="#4a4a4a" stroke-width="1.9" fill="none"/>
<rect x="943.73" y="876.1" width="18.78" height="25.48" fill="#39B600" stroke="#262626" stroke-width="1.45"/>
<path d="M943.73 884.46H962.51" stroke="#1c1c1c" stroke-width="3.0" fill="none"/>
<circle cx="953.12" cy="818.47" r="3.15" fill="#141414"/>
<path d="M977.67 850.42V860.44M977.67 877.56V891.76" stroke="#4a4a4a" stroke-width="1.9" fill="none"/>
<rect x="968.28" y="860.44" width="18.78" height="17.12" fill="#00BF7D" stroke="#262626" stroke-width="1.45"/>
<path d="M968.28 869.21H987.06" stroke="#1c1c1c" stroke-width="3.0" fill="none"/>
<circle cx="977.67" cy="819.72" r="3.15" fill="#141414"/>
<path d="M1002.22 850.42V868.17M1002.22 881.74V897.4" stroke="#4a4a4a" stroke-width="1.9" fill="none"/>
<rect x="992.83" y="868.17" width="18.78" height="13.57" fill="#00BFC4" stroke="#262626" stroke-width="1.45"/>
<path d="M992.83 873.81H1011.61" stroke="#1c1c1c" stroke-width="3.0" fill="none"/>
<circle cx="1002.22" cy="803.44" r="3.15" fill="#141414"/>
<circle cx="1002.22" cy="826.41" r="3.15" fill="#141414"/>
<circle cx="1002.22" cy="900.53" r="3.15" fill="#141414"/>
<path d="M1026.76 812.42V857.73M1026.76 891.14V906.38" stroke="#4a4a4a" stroke-width="1.9" fill="none"/>
<rect x="1017.37" y="857.73" width="18.78" height="33.41" fill="#00B0F6" stroke="#262626" stroke-width="1.45"/>
<path d="M1017.37 872.34H1036.15" stroke="#1c1c1c" stroke-width="3.0" fill="none"/>
<path d="M1051.31 809.7V843.74M1051.31 888.42V917.24" stroke="#4a4a4a" stroke-width="1.9" fill="none"/>
<rect x="1041.92" y="843.74" width="18.78" height="44.69" fill="#9590FF" stroke="#262626" stroke-width="1.45"/>
<path d="M1041.92 866.08H1060.7" stroke="#1c1c1c" stroke-width="3.0" fill="none"/>
<path d="M1075.86 844.78V854.6M1075.86 867.12V871.3" stroke="#4a4a4a" stroke-width="1.9" fill="none"/>
<rect x="1066.47" y="854.6" width="18.78" height="12.53" fill="#E76BF3" stroke="#262626" stroke-width="1.45"/>
<path d="M1066.47 859.4H1085.25" stroke="#1c1c1c" stroke-width="3.0" fill="none"/>
<circle cx="1075.86" cy="813.25" r="3.15" fill="#141414"/>
<path d="M1100.41 804.9V820.56M1100.41 849.38V866.5" stroke="#4a4a4a" stroke-width="1.9" fill="none"/>
<rect x="1091.02" y="820.56" width="18.78" height="28.82" fill="#FF62BC" stroke="#262626" stroke-width="1.45"/>
<path d="M1091.02 837.89H1109.8" stroke="#1c1c1c" stroke-width="3.0" fill="none"/>
<rect x="918.01" y="1022.6" width="21.11" height="3.5" fill="#A3A500"/>
<rect x="942.56" y="1019.8" width="21.11" height="6.3" fill="#39B600"/>
<rect x="967.11" y="1024.5" width="21.11" height="1.6" fill="#00BF7D"/>
<rect x="1016.21" y="1005.2" width="21.11" height="20.9" fill="#00B0F6"/>
<rect x="1040.76" y="1005.2" width="21.11" height="20.9" fill="#9590FF"/>
<rect x="1089.85" y="1018.5" width="21.11" height="7.6" fill="#FF62BC"/>
<rect x="1124.7" y="724.1" width="201.3" height="228" fill="#ebebeb"/>
<path d="M1124.7 761.7H1326M1124.7 818.1H1326M1124.7 872.8H1326M1124.7 926.6H1326" stroke="#fff" stroke-width="1.35" fill="none"/>
<path d="M1124.7 735.6H1326M1124.7 787.4H1326M1124.7 847.3H1326M1124.7 900.1H1326" stroke="#fff" stroke-width="2.3" fill="none"/>
<path d="M1139.43 724.1V952.1M1163.98 724.1V952.1M1188.53 724.1V952.1M1213.08 724.1V952.1M1237.62 724.1V952.1M1262.17 724.1V952.1M1286.72 724.1V952.1M1311.27 724.1V952.1" stroke="#fff" stroke-width="1.9" fill="none"/>
<rect x="1124.7" y="960" width="201.3" height="68.6" fill="#ebebeb"/>
<path d="M1124.7 975H1326M1124.7 995.3H1326M1124.7 1015.9H1326" stroke="#fff" stroke-width="1.35" fill="none"/>
<path d="M1124.7 964.9H1326M1124.7 985.2H1326M1124.7 1005.8H1326M1124.7 1026.1H1326" stroke="#fff" stroke-width="2.3" fill="none"/>
<path d="M1139.43 960V1028.6M1163.98 960V1028.6M1188.53 960V1028.6M1213.08 960V1028.6M1237.62 960V1028.6M1262.17 960V1028.6M1286.72 960V1028.6M1311.27 960V1028.6" stroke="#fff" stroke-width="1.9" fill="none"/>
<path d="M1139.43 862.32V877.56M1139.43 893.64V914.11" stroke="#4a4a4a" stroke-width="1.9" fill="none"/>
<rect x="1130.04" y="877.56" width="18.78" height="16.08" fill="#A3A500" stroke="#262626" stroke-width="1.45"/>
<path d="M1130.04 885.92H1148.82" stroke="#1c1c1c" stroke-width="3.0" fill="none"/>
<circle cx="1139.43" cy="835.8" r="3.15" fill="#141414"/>
<circle cx="1139.43" cy="845.62" r="3.15" fill="#141414"/>
<path d="M1163.98 833.3V870.88M1163.98 898.03V909.3" stroke="#4a4a4a" stroke-width="1.9" fill="none"/>
<rect x="1154.59" y="870.88" width="18.78" height="27.15" fill="#39B600" stroke="#262626" stroke-width="1.45"/>
<path d="M1154.59 884.46H1173.37" stroke="#1c1c1c" stroke-width="3.0" fill="none"/>
<path d="M1188.53 823.27V848.96M1188.53 872.76V885.92" stroke="#4a4a4a" stroke-width="1.9" fill="none"/>
<rect x="1179.14" y="848.96" width="18.78" height="23.8" fill="#00BF7D" stroke="#262626" stroke-width="1.45"/>
<path d="M1179.14 860.44H1197.92" stroke="#1c1c1c" stroke-width="3.0" fill="none"/>
<path d="M1213.08 805.52V845.62M1213.08 873.39V902.62" stroke="#4a4a4a" stroke-width="1.9" fill="none"/>
<rect x="1203.69" y="845.62" width="18.78" height="27.77" fill="#00BFC4" stroke="#262626" stroke-width="1.45"/>
<path d="M1203.69 858.35H1222.47" stroke="#1c1c1c" stroke-width="3.0" fill="none"/>
<circle cx="1213.08" cy="793" r="3.15" fill="#141414"/>
<circle cx="1213.08" cy="800.93" r="3.15" fill="#141414"/>
<path d="M1237.62 790.28V827.87M1237.62 861.28V893.64" stroke="#4a4a4a" stroke-width="1.9" fill="none"/>
<rect x="1228.23" y="827.87" width="18.78" height="33.41" fill="#00B0F6" stroke="#262626" stroke-width="1.45"/>
<path d="M1228.23 847.29H1247.01" stroke="#1c1c1c" stroke-width="3.0" fill="none"/>
<circle cx="1237.62" cy="734.95" r="3.15" fill="#141414"/>
<path d="M1262.17 734.95V791.33M1262.17 857.31V886.96" stroke="#4a4a4a" stroke-width="1.9" fill="none"/>
<rect x="1252.78" y="791.33" width="18.78" height="65.98" fill="#9590FF" stroke="#262626" stroke-width="1.45"/>
<path d="M1252.78 825.36H1271.56" stroke="#1c1c1c" stroke-width="3.0" fill="none"/>
<path d="M1286.72 788.4V820.56M1286.72 846.87V857.73" stroke="#4a4a4a" stroke-width="1.9" fill="none"/>
<rect x="1277.33" y="820.56" width="18.78" height="26.31" fill="#E76BF3" stroke="#262626" stroke-width="1.45"/>
<path d="M1277.33 832.67H1296.11" stroke="#1c1c1c" stroke-width="3.0" fill="none"/>
<circle cx="1286.72" cy="734.95" r="3.15" fill="#141414"/>
<path d="M1311.27 776.71V817.01M1311.27 846.87V876.94" stroke="#4a4a4a" stroke-width="1.9" fill="none"/>
<rect x="1301.88" y="817.01" width="18.78" height="29.86" fill="#FF62BC" stroke="#262626" stroke-width="1.45"/>
<path d="M1301.88 831H1320.66" stroke="#1c1c1c" stroke-width="3.0" fill="none"/>
<rect x="1128.87" y="1023.6" width="21.11" height="2.5" fill="#A3A500"/>
<rect x="1153.42" y="1019.8" width="21.11" height="6.3" fill="#39B600"/>
<rect x="1177.97" y="1024.5" width="21.11" height="1.6" fill="#00BF7D"/>
<rect x="1202.52" y="1023.6" width="21.11" height="2.5" fill="#00BFC4"/>
<rect x="1227.07" y="992.5" width="21.11" height="33.6" fill="#00B0F6"/>
<rect x="1251.62" y="972.8" width="21.11" height="53.3" fill="#9590FF"/>
<rect x="1300.71" y="1023.9" width="21.11" height="2.2" fill="#FF62BC"/>
<rect x="1335.56" y="724.1" width="201.3" height="228" fill="#ebebeb"/>
<path d="M1335.56 761.7H1536.86M1335.56 818.1H1536.86M1335.56 872.8H1536.86M1335.56 926.6H1536.86" stroke="#fff" stroke-width="1.35" fill="none"/>
<path d="M1335.56 735.6H1536.86M1335.56 787.4H1536.86M1335.56 847.3H1536.86M1335.56 900.1H1536.86" stroke="#fff" stroke-width="2.3" fill="none"/>
<path d="M1350.29 724.1V952.1M1374.84 724.1V952.1M1399.39 724.1V952.1M1423.94 724.1V952.1M1448.48 724.1V952.1M1473.03 724.1V952.1M1497.58 724.1V952.1M1522.13 724.1V952.1" stroke="#fff" stroke-width="1.9" fill="none"/>
<rect x="1335.56" y="960" width="201.3" height="68.6" fill="#ebebeb"/>
<path d="M1335.56 975H1536.86M1335.56 995.3H1536.86M1335.56 1015.9H1536.86" stroke="#fff" stroke-width="1.35" fill="none"/>
<path d="M1335.56 964.9H1536.86M1335.56 985.2H1536.86M1335.56 1005.8H1536.86M1335.56 1026.1H1536.86" stroke="#fff" stroke-width="2.3" fill="none"/>
<path d="M1350.29 960V1028.6M1374.84 960V1028.6M1399.39 960V1028.6M1423.94 960V1028.6M1448.48 960V1028.6M1473.03 960V1028.6M1497.58 960V1028.6M1522.13 960V1028.6" stroke="#fff" stroke-width="1.9" fill="none"/>
<path d="M1350.29 850.42V878.61M1350.29 902.2V927.68" stroke="#4a4a4a" stroke-width="1.9" fill="none"/>
<rect x="1340.9" y="878.61" width="18.78" height="23.6" fill="#A3A500" stroke="#262626" stroke-width="1.45"/>
<path d="M1340.9 894.27H1359.68" stroke="#1c1c1c" stroke-width="3.0" fill="none"/>
<path d="M1374.84 835.38V871.93M1374.84 902.2V916.2" stroke="#4a4a4a" stroke-width="1.9" fill="none"/>
<rect x="1365.45" y="871.93" width="18.78" height="30.28" fill="#39B600" stroke="#262626" stroke-width="1.45"/>
<path d="M1365.45 888.42H1384.23" stroke="#1c1c1c" stroke-width="3.0" fill="none"/>
<path d="M1399.39 836.85V861.28M1399.39 878.61V889.68" stroke="#4a4a4a" stroke-width="1.9" fill="none"/>
<rect x="1390" y="861.28" width="18.78" height="17.33" fill="#00BF7D" stroke="#262626" stroke-width="1.45"/>
<path d="M1390 867.54H1408.78" stroke="#1c1c1c" stroke-width="3.0" fill="none"/>
<path d="M1423.94 854.6V867.12M1423.94 884.46V900.53" stroke="#4a4a4a" stroke-width="1.9" fill="none"/>
<rect x="1414.55" y="867.12" width="18.78" height="17.33" fill="#00BFC4" stroke="#262626" stroke-width="1.45"/>
<path d="M1414.55 875.48H1433.33" stroke="#1c1c1c" stroke-width="3.0" fill="none"/>
<path d="M1448.48 851.46V880.07M1448.48 904.71V912.02" stroke="#4a4a4a" stroke-width="1.9" fill="none"/>
<rect x="1439.09" y="880.07" width="18.78" height="24.64" fill="#00B0F6" stroke="#262626" stroke-width="1.45"/>
<path d="M1439.09 891.14H1457.87" stroke="#1c1c1c" stroke-width="3.0" fill="none"/>
<circle cx="1448.48" cy="835.38" r="3.15" fill="#141414"/>
<circle cx="1448.48" cy="843.11" r="3.15" fill="#141414"/>
<path d="M1473.03 843.74V876.1M1473.03 899.49V914.11" stroke="#4a4a4a" stroke-width="1.9" fill="none"/>
<rect x="1463.64" y="876.1" width="18.78" height="23.39" fill="#9590FF" stroke="#262626" stroke-width="1.45"/>
<path d="M1463.64 890.09H1482.42" stroke="#1c1c1c" stroke-width="3.0" fill="none"/>
<circle cx="1473.03" cy="808.66" r="3.15" fill="#141414"/>
<circle cx="1473.03" cy="835.8" r="3.15" fill="#141414"/>
<path d="M1497.58 845.2V861.28M1497.58 871.93V875.06" stroke="#4a4a4a" stroke-width="1.9" fill="none"/>
<rect x="1488.19" y="861.28" width="18.78" height="10.65" fill="#E76BF3" stroke="#262626" stroke-width="1.45"/>
<path d="M1488.19 863.99H1506.97" stroke="#1c1c1c" stroke-width="3.0" fill="none"/>
<circle cx="1497.58" cy="842.48" r="3.15" fill="#141414"/>
<path d="M1522.13 815.55V839.98M1522.13 867.12V877.15" stroke="#4a4a4a" stroke-width="1.9" fill="none"/>
<rect x="1512.74" y="839.98" width="18.78" height="27.15" fill="#FF62BC" stroke="#262626" stroke-width="1.45"/>
<path d="M1512.74 847.29H1531.52" stroke="#1c1c1c" stroke-width="3.0" fill="none"/>
<circle cx="1522.13" cy="788.82" r="3.15" fill="#141414"/>
<rect x="1339.73" y="1022.6" width="21.11" height="3.5" fill="#A3A500"/>
<rect x="1364.28" y="1019.8" width="21.11" height="6.3" fill="#39B600"/>
<rect x="1413.38" y="1023.6" width="21.11" height="2.5" fill="#00BFC4"/>
<rect x="1437.93" y="1019.8" width="21.11" height="6.3" fill="#00B0F6"/>
<rect x="1462.48" y="1016.9" width="21.11" height="9.2" fill="#9590FF"/>
<rect x="1511.57" y="1023.6" width="21.11" height="2.5" fill="#FF62BC"/>
<rect x="1546.42" y="724.1" width="201.3" height="228" fill="#ebebeb"/>
<path d="M1546.42 761.7H1747.72M1546.42 818.1H1747.72M1546.42 872.8H1747.72M1546.42 926.6H1747.72" stroke="#fff" stroke-width="1.35" fill="none"/>
<path d="M1546.42 735.6H1747.72M1546.42 787.4H1747.72M1546.42 847.3H1747.72M1546.42 900.1H1747.72" stroke="#fff" stroke-width="2.3" fill="none"/>
<path d="M1561.15 724.1V952.1M1585.7 724.1V952.1M1610.25 724.1V952.1M1634.8 724.1V952.1M1659.34 724.1V952.1M1683.89 724.1V952.1M1708.44 724.1V952.1M1732.99 724.1V952.1" stroke="#fff" stroke-width="1.9" fill="none"/>
<rect x="1546.42" y="960" width="201.3" height="68.6" fill="#ebebeb"/>
<path d="M1546.42 975H1747.72M1546.42 995.3H1747.72M1546.42 1015.9H1747.72" stroke="#fff" stroke-width="1.35" fill="none"/>
<path d="M1546.42 964.9H1747.72M1546.42 985.2H1747.72M1546.42 1005.8H1747.72M1546.42 1026.1H1747.72" stroke="#fff" stroke-width="2.3" fill="none"/>
<path d="M1561.15 960V1028.6M1585.7 960V1028.6M1610.25 960V1028.6M1634.8 960V1028.6M1659.34 960V1028.6M1683.89 960V1028.6M1708.44 960V1028.6M1732.99 960V1028.6" stroke="#fff" stroke-width="1.9" fill="none"/>
<path d="M1561.15 851.46V868.17M1561.15 892.18V906.38" stroke="#4a4a4a" stroke-width="1.9" fill="none"/>
<rect x="1551.76" y="868.17" width="18.78" height="24.01" fill="#A3A500" stroke="#262626" stroke-width="1.45"/>
<path d="M1551.76 884.87H1570.54" stroke="#1c1c1c" stroke-width="3.0" fill="none"/>
<circle cx="1561.15" cy="793" r="3.15" fill="#141414"/>
<path d="M1585.7 851.46V864.41M1585.7 886.54V903.25" stroke="#4a4a4a" stroke-width="1.9" fill="none"/>
<rect x="1576.31" y="864.41" width="18.78" height="22.13" fill="#39B600" stroke="#262626" stroke-width="1.45"/>
<path d="M1576.31 876.1H1595.09" stroke="#1c1c1c" stroke-width="3.0" fill="none"/>
<path d="M1610.25 837.89V860.44M1610.25 880.07V898.45" stroke="#4a4a4a" stroke-width="1.9" fill="none"/>
<rect x="1600.86" y="860.44" width="18.78" height="19.63" fill="#00BF7D" stroke="#262626" stroke-width="1.45"/>
<path d="M1600.86 869.21H1619.64" stroke="#1c1c1c" stroke-width="3.0" fill="none"/>
<path d="M1634.8 841.02V858.35M1634.8 876.52V896.36" stroke="#4a4a4a" stroke-width="1.9" fill="none"/>
<rect x="1625.41" y="858.35" width="18.78" height="18.17" fill="#00BFC4" stroke="#262626" stroke-width="1.45"/>
<path d="M1625.41 862.53H1644.19" stroke="#1c1c1c" stroke-width="3.0" fill="none"/>
<circle cx="1634.8" cy="814.29" r="3.15" fill="#141414"/>
<circle cx="1634.8" cy="831.63" r="3.15" fill="#141414"/>
<path d="M1659.34 825.36V853.55M1659.34 886.54V905.34" stroke="#4a4a4a" stroke-width="1.9" fill="none"/>
<rect x="1649.95" y="853.55" width="18.78" height="32.99" fill="#00B0F6" stroke="#262626" stroke-width="1.45"/>
<path d="M1649.95 870.26H1668.73" stroke="#1c1c1c" stroke-width="3.0" fill="none"/>
<circle cx="1659.34" cy="791.33" r="3.15" fill="#141414"/>
<path d="M1683.89 805.52V850.84M1683.89 881.74V900.53" stroke="#4a4a4a" stroke-width="1.9" fill="none"/>
<rect x="1674.5" y="850.84" width="18.78" height="30.9" fill="#9590FF" stroke="#262626" stroke-width="1.45"/>
<path d="M1674.5 870.26H1693.28" stroke="#1c1c1c" stroke-width="3.0" fill="none"/>
<path d="M1708.44 835.38V848.75M1708.44 861.28V874.43" stroke="#4a4a4a" stroke-width="1.9" fill="none"/>
<rect x="1699.05" y="848.75" width="18.78" height="12.53" fill="#E76BF3" stroke="#262626" stroke-width="1.45"/>
<path d="M1699.05 853.55H1717.83" stroke="#1c1c1c" stroke-width="3.0" fill="none"/>
<path d="M1732.99 823.27V833.3M1732.99 852.51V864.62" stroke="#4a4a4a" stroke-width="1.9" fill="none"/>
<rect x="1723.6" y="833.3" width="18.78" height="19.21" fill="#FF62BC" stroke="#262626" stroke-width="1.45"/>
<path d="M1723.6 841.65H1742.38" stroke="#1c1c1c" stroke-width="3.0" fill="none"/>
<rect x="1550.59" y="1020.7" width="21.11" height="5.4" fill="#A3A500"/>
<rect x="1575.14" y="1022.6" width="21.11" height="3.5" fill="#39B600"/>
<rect x="1624.24" y="1024.5" width="21.11" height="1.6" fill="#00BFC4"/>
<rect x="1648.79" y="1011.8" width="21.11" height="14.3" fill="#00B0F6"/>
<rect x="1673.34" y="1015.6" width="21.11" height="10.5" fill="#9590FF"/>
<rect x="1722.43" y="1022.6" width="21.11" height="3.5" fill="#FF62BC"/>
<rect x="1757.28" y="724.1" width="201.3" height="228" fill="#ebebeb"/>
<path d="M1757.28 761.7H1958.58M1757.28 818.1H1958.58M1757.28 872.8H1958.58M1757.28 926.6H1958.58" stroke="#fff" stroke-width="1.35" fill="none"/>
<path d="M1757.28 735.6H1958.58M1757.28 787.4H1958.58M1757.28 847.3H1958.58M1757.28 900.1H1958.58" stroke="#fff" stroke-width="2.3" fill="none"/>
<path d="M1772.01 724.1V952.1M1796.56 724.1V952.1M1821.11 724.1V952.1M1845.66 724.1V952.1M1870.2 724.1V952.1M1894.75 724.1V952.1M1919.3 724.1V952.1M1943.85 724.1V952.1" stroke="#fff" stroke-width="1.9" fill="none"/>
<rect x="1757.28" y="960" width="201.3" height="68.6" fill="#ebebeb"/>
<path d="M1757.28 975H1958.58M1757.28 995.3H1958.58M1757.28 1015.9H1958.58" stroke="#fff" stroke-width="1.35" fill="none"/>
<path d="M1757.28 964.9H1958.58M1757.28 985.2H1958.58M1757.28 1005.8H1958.58M1757.28 1026.1H1958.58" stroke="#fff" stroke-width="2.3" fill="none"/>
<path d="M1772.01 960V1028.6M1796.56 960V1028.6M1821.11 960V1028.6M1845.66 960V1028.6M1870.2 960V1028.6M1894.75 960V1028.6M1919.3 960V1028.6M1943.85 960V1028.6" stroke="#fff" stroke-width="1.9" fill="none"/>
<path d="M1772.01 846.66V858.77M1772.01 879.65V900.53" stroke="#4a4a4a" stroke-width="1.9" fill="none"/>
<rect x="1762.62" y="858.77" width="18.78" height="20.88" fill="#A3A500" stroke="#262626" stroke-width="1.45"/>
<path d="M1762.62 866.08H1781.4" stroke="#1c1c1c" stroke-width="3.0" fill="none"/>
<path d="M1796.56 815.55V850.84M1796.56 881.74V898.45" stroke="#4a4a4a" stroke-width="1.9" fill="none"/>
<rect x="1787.17" y="850.84" width="18.78" height="30.9" fill="#39B600" stroke="#262626" stroke-width="1.45"/>
<path d="M1787.17 873.81H1805.95" stroke="#1c1c1c" stroke-width="3.0" fill="none"/>
<path d="M1821.11 816.38V843.74M1821.11 865.66V888.42" stroke="#4a4a4a" stroke-width="1.9" fill="none"/>
<rect x="1811.72" y="843.74" width="18.78" height="21.93" fill="#00BF7D" stroke="#262626" stroke-width="1.45"/>
<path d="M1811.72 852.51H1830.5" stroke="#1c1c1c" stroke-width="3.0" fill="none"/>
<path d="M1845.66 818.47V843.74M1845.66 862.95V881.74" stroke="#4a4a4a" stroke-width="1.9" fill="none"/>
<rect x="1836.27" y="843.74" width="18.78" height="19.21" fill="#00BFC4" stroke="#262626" stroke-width="1.45"/>
<path d="M1836.27 853.97H1855.05" stroke="#1c1c1c" stroke-width="3.0" fill="none"/>
<circle cx="1845.66" cy="813.88" r="3.15" fill="#141414"/>
<path d="M1870.2 734.95V781.93M1870.2 859.19V886.96" stroke="#4a4a4a" stroke-width="1.9" fill="none"/>
<rect x="1860.81" y="781.93" width="18.78" height="77.26" fill="#00B0F6" stroke="#262626" stroke-width="1.45"/>
<path d="M1860.81 841.02H1879.59" stroke="#1c1c1c" stroke-width="3.0" fill="none"/>
<path d="M1894.75 784.23V813.88M1894.75 839.98V874.02" stroke="#4a4a4a" stroke-width="1.9" fill="none"/>
<rect x="1885.36" y="813.88" width="18.78" height="26.1" fill="#9590FF" stroke="#262626" stroke-width="1.45"/>
<path d="M1885.36 827.03H1904.14" stroke="#1c1c1c" stroke-width="3.0" fill="none"/>
<circle cx="1894.75" cy="749.56" r="3.15" fill="#141414"/>
<path d="M1919.3 765.22V812.83M1919.3 845.62V864.41" stroke="#4a4a4a" stroke-width="1.9" fill="none"/>
<rect x="1909.91" y="812.83" width="18.78" height="32.78" fill="#E76BF3" stroke="#262626" stroke-width="1.45"/>
<path d="M1909.91 835.38H1928.69" stroke="#1c1c1c" stroke-width="3.0" fill="none"/>
<circle cx="1919.3" cy="734.95" r="3.15" fill="#141414"/>
<circle cx="1919.3" cy="754.78" r="3.15" fill="#141414"/>
<path d="M1943.85 752.28V803.85M1943.85 838.93V856.68" stroke="#4a4a4a" stroke-width="1.9" fill="none"/>
<rect x="1934.46" y="803.85" width="18.78" height="35.08" fill="#FF62BC" stroke="#262626" stroke-width="1.45"/>
<path d="M1934.46 824.32H1953.24" stroke="#1c1c1c" stroke-width="3.0" fill="none"/>
<circle cx="1943.85" cy="734.95" r="3.15" fill="#141414"/>
<rect x="1761.45" y="1015.6" width="21.11" height="10.5" fill="#A3A500"/>
<rect x="1786" y="1011.8" width="21.11" height="14.3" fill="#39B600"/>
<rect x="1810.55" y="1023.6" width="21.11" height="2.5" fill="#00BF7D"/>
<rect x="1835.1" y="1019.8" width="21.11" height="6.3" fill="#00BFC4"/>
<rect x="1859.65" y="970.9" width="21.11" height="55.2" fill="#00B0F6"/>
<rect x="1884.2" y="989.9" width="21.11" height="36.2" fill="#9590FF"/>
<rect x="1933.29" y="1022.6" width="21.11" height="3.5" fill="#FF62BC"/>
<path d="M63.9 735.6H69.6" stroke="#333" stroke-width="2.1"/>
<text transform="translate(59.3,744.5)" font-size="19.8" text-anchor="end" fill="#444444" stroke="#444444" stroke-width="0.25">30</text>
<path d="M63.9 787.4H69.6" stroke="#333" stroke-width="2.1"/>
<text transform="translate(59.3,796.3)" font-size="19.8" text-anchor="end" fill="#444444" stroke="#444444" stroke-width="0.25">10</text>
<path d="M63.9 847.3H69.6" stroke="#333" stroke-width="2.1"/>
<text transform="translate(59.3,856.2)" font-size="19.8" text-anchor="end" fill="#444444" stroke="#444444" stroke-width="0.25">3</text>
<path d="M63.9 900.1H69.6" stroke="#333" stroke-width="2.1"/>
<text transform="translate(59.3,909)" font-size="19.8" text-anchor="end" fill="#444444" stroke="#444444" stroke-width="0.25">1</text>
<path d="M63.9 964.9H69.6" stroke="#333" stroke-width="2.1"/>
<text transform="translate(59.3,973.8)" font-size="19.8" text-anchor="end" fill="#444444" stroke="#444444" stroke-width="0.25">3</text>
<path d="M63.9 985.2H69.6" stroke="#333" stroke-width="2.1"/>
<text transform="translate(59.3,994.1)" font-size="19.8" text-anchor="end" fill="#444444" stroke="#444444" stroke-width="0.25">2</text>
<path d="M63.9 1005.8H69.6" stroke="#333" stroke-width="2.1"/>
<text transform="translate(59.3,1014.7)" font-size="19.8" text-anchor="end" fill="#444444" stroke="#444444" stroke-width="0.25">1</text>
<path d="M63.9 1026.1H69.6" stroke="#333" stroke-width="2.1"/>
<text transform="translate(59.3,1035)" font-size="19.8" text-anchor="end" fill="#444444" stroke="#444444" stroke-width="0.25">0</text>
<text transform="translate(29.4,838.9) rotate(-90) scale(0.985,1)" font-size="27.4" text-anchor="middle" fill="#000" stroke="#000" stroke-width="0.5">Time (s)</text>
<text transform="translate(29.4,995.1) rotate(-90) scale(0.985,1)" font-size="27.4" text-anchor="middle" fill="#000" stroke="#000" stroke-width="0.5">Misses</text>
<rect x="342.5" y="1048.2" width="31" height="31" fill="#f2f2f2"/>
<path d="M358 1051V1055.2M358 1072.2V1076.4" stroke="#4a4a4a" stroke-width="1.3" fill="none"/>
<rect x="346.4" y="1055.7" width="23.2" height="16" fill="#F8766D" stroke="#262626" stroke-width="1.3"/>
<path d="M346.4 1063.7H369.6" stroke="#262626" stroke-width="2.2" fill="none"/>
<text transform="translate(387.3,1072.9) scale(0.972,1)" font-size="21.4" text-anchor="start" fill="#000" stroke="#000" stroke-width="0.3">Simple Virtual Hand</text>
<rect x="342.5" y="1079.2" width="31" height="31" fill="#f2f2f2"/>
<path d="M358 1082V1086.2M358 1103.2V1107.4" stroke="#4a4a4a" stroke-width="1.3" fill="none"/>
<rect x="346.4" y="1086.7" width="23.2" height="16" fill="#D89000" stroke="#262626" stroke-width="1.3"/>
<path d="M346.4 1094.7H369.6" stroke="#262626" stroke-width="2.2" fill="none"/>
<text transform="translate(387.3,1103.9) scale(0.972,1)" font-size="21.4" text-anchor="start" fill="#000" stroke="#000" stroke-width="0.3">Spindle</text>
<rect x="586.5" y="1048.2" width="31" height="31" fill="#f2f2f2"/>
<path d="M602 1051V1055.2M602 1072.2V1076.4" stroke="#4a4a4a" stroke-width="1.3" fill="none"/>
<rect x="590.4" y="1055.7" width="23.2" height="16" fill="#A3A500" stroke="#262626" stroke-width="1.3"/>
<path d="M590.4 1063.7H613.6" stroke="#262626" stroke-width="2.2" fill="none"/>
<text transform="translate(630,1072.9) scale(0.955,1)" font-size="21.4" text-anchor="start" fill="#000" stroke="#000" stroke-width="0.3">IntenSelect</text>
<rect x="586.5" y="1079.2" width="31" height="31" fill="#f2f2f2"/>
<path d="M602 1082V1086.2M602 1103.2V1107.4" stroke="#4a4a4a" stroke-width="1.3" fill="none"/>
<rect x="590.4" y="1086.7" width="23.2" height="16" fill="#39B600" stroke="#262626" stroke-width="1.3"/>
<path d="M590.4 1094.7H613.6" stroke="#262626" stroke-width="2.2" fill="none"/>
<text transform="translate(630,1103.9) scale(0.972,1)" font-size="21.4" text-anchor="start" fill="#000" stroke="#000" stroke-width="0.3">Flashlight</text>
<rect x="745.6" y="1048.2" width="31" height="31" fill="#f2f2f2"/>
<path d="M761.1 1051V1055.2M761.1 1072.2V1076.4" stroke="#4a4a4a" stroke-width="1.3" fill="none"/>
<rect x="749.5" y="1055.7" width="23.2" height="16" fill="#00BF7D" stroke="#262626" stroke-width="1.3"/>
<path d="M749.5 1063.7H772.7" stroke="#262626" stroke-width="2.2" fill="none"/>
<text transform="translate(790.3,1072.9) scale(0.972,1)" font-size="21.4" text-anchor="start" fill="#000" stroke="#000" stroke-width="0.3">Expand</text>
<rect x="745.6" y="1079.2" width="31" height="31" fill="#f2f2f2"/>
<path d="M761.1 1082V1086.2M761.1 1103.2V1107.4" stroke="#4a4a4a" stroke-width="1.3" fill="none"/>
<rect x="749.5" y="1086.7" width="23.2" height="16" fill="#00BFC4" stroke="#262626" stroke-width="1.3"/>
<path d="M749.5 1094.7H772.7" stroke="#262626" stroke-width="2.2" fill="none"/>
<text transform="translate(790.3,1103.9) scale(0.972,1)" font-size="21.4" text-anchor="start" fill="#000" stroke="#000" stroke-width="0.3">Scaled Scrolling World In Miniature</text>
<rect x="1127.5" y="1048.2" width="31" height="31" fill="#f2f2f2"/>
<path d="M1143 1051V1055.2M1143 1072.2V1076.4" stroke="#4a4a4a" stroke-width="1.3" fill="none"/>
<rect x="1131.4" y="1055.7" width="23.2" height="16" fill="#00B0F6" stroke="#262626" stroke-width="1.3"/>
<path d="M1131.4 1063.7H1154.6" stroke="#262626" stroke-width="2.2" fill="none"/>
<text transform="translate(1171.5,1072.9) scale(0.982,1)" font-size="21.4" text-anchor="start" fill="#000" stroke="#000" stroke-width="0.3">Scaled HOMER</text>
<rect x="1127.5" y="1079.2" width="31" height="31" fill="#f2f2f2"/>
<path d="M1143 1082V1086.2M1143 1103.2V1107.4" stroke="#4a4a4a" stroke-width="1.3" fill="none"/>
<rect x="1131.4" y="1086.7" width="23.2" height="16" fill="#9590FF" stroke="#262626" stroke-width="1.3"/>
<path d="M1131.4 1094.7H1154.6" stroke="#262626" stroke-width="2.2" fill="none"/>
<text transform="translate(1171.5,1103.9) scale(0.972,1)" font-size="21.4" text-anchor="start" fill="#000" stroke="#000" stroke-width="0.3">Bimanual Fishing Reel</text>
<rect x="1394.6" y="1048.2" width="31" height="31" fill="#f2f2f2"/>
<path d="M1410.1 1051V1055.2M1410.1 1072.2V1076.4" stroke="#4a4a4a" stroke-width="1.3" fill="none"/>
<rect x="1398.5" y="1055.7" width="23.2" height="16" fill="#E76BF3" stroke="#262626" stroke-width="1.3"/>
<path d="M1398.5 1063.7H1421.7" stroke="#262626" stroke-width="2.2" fill="none"/>
<text transform="translate(1438.9,1072.9) scale(0.994,1)" font-size="21.4" text-anchor="start" fill="#000" stroke="#000" stroke-width="0.3">Head Based Selection</text>
<rect x="1394.6" y="1079.2" width="31" height="31" fill="#f2f2f2"/>
<path d="M1410.1 1082V1086.2M1410.1 1103.2V1107.4" stroke="#4a4a4a" stroke-width="1.3" fill="none"/>
<rect x="1398.5" y="1086.7" width="23.2" height="16" fill="#FF62BC" stroke="#262626" stroke-width="1.3"/>
<path d="M1398.5 1094.7H1421.7" stroke="#262626" stroke-width="2.2" fill="none"/>
<text transform="translate(1438.9,1103.9) scale(0.972,1)" font-size="21.4" text-anchor="start" fill="#000" stroke="#000" stroke-width="0.3">Go-Go + PRISM</text>
</g></svg>
</body></html>
